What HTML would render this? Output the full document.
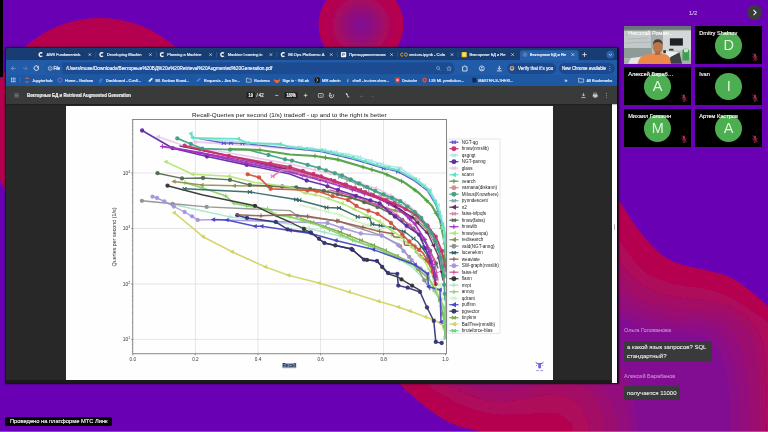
<!DOCTYPE html>
<html lang="ru"><head><meta charset="utf-8"><title>MTS Link</title>
<style>
html,body{margin:0;padding:0}
body{width:768px;height:432px;overflow:hidden;position:relative;background:#6900b4;
 font-family:"Liberation Sans",sans-serif;}
#bg{position:absolute;left:0;top:0}
#blackbar{position:absolute;left:0;top:0;width:2.6px;height:77px;background:#000}
#win{position:absolute;left:6.2px;top:48.2px;width:611.6px;height:334.8px;background:#282828;
 box-shadow:0 0 1.6px 0.6px rgba(8,8,18,.9);border-radius:2px 2px 0 0;overflow:hidden}
#win .tabbar{position:absolute;left:0;top:0;width:100%;height:12.2px;background:#173d72}
#win .addr{position:absolute;left:0;top:12px;width:100%;height:15.4px;background:#225ca8}
#win .bm{position:absolute;left:0;top:27.2px;width:100%;height:11.2px;background:#1f58a2}
#win .pdfbar{position:absolute;left:0;top:38.3px;width:100%;height:17.2px;background:#393a3a;
 box-shadow:0 0.5px 1.5px rgba(0,0,0,.6)}
#win .page{position:absolute;left:59.9px;top:57.5px;width:487px;height:274.4px;background:#fefefe}
#win .strip{position:absolute;left:605.6px;top:56px;width:5.2px;height:280px;background:#fdfdfd}
#win .redge{position:absolute;right:0;top:0;width:1.2px;height:100%;background:#0e1018}
#win .bot{position:absolute;left:0;bottom:0;width:605.4px;height:2.9px;background:#1b191b}
#win .handle{position:absolute;left:607.5px;top:176px;width:1.6px;height:6px;border-radius:1px;background:#b8b8b8}
#chrome{position:absolute;left:0;top:0}
.tile{position:absolute;width:67.4px;height:37.7px;background:#000;overflow:hidden}
.tile .nm{position:absolute;left:4.2px;top:3.9px;font-size:5.62px;line-height:7px;color:#f6f6f6;white-space:nowrap;z-index:3;
 -webkit-text-stroke:.15px #f6f6f6;filter:blur(.28px)}
.tile .av{position:absolute;left:20.4px;top:6.2px;width:26.6px;height:26.6px;border-radius:50%;background:#4cae50;
 color:#dcf6dc;font-size:14.5px;line-height:26.6px;text-align:center;filter:blur(.3px)}
.tile svg.mic{position:absolute;left:57.2px;top:26.6px;opacity:.8;filter:blur(.3px)}
#pg{position:absolute;left:689px;top:8.6px;font-size:5.9px;-webkit-text-stroke:.12px #d9b8f2;line-height:8px;color:#d9b8f2;filter:blur(.25px)}
#nxt{position:absolute;left:747.2px;top:4.9px;width:15.2px;height:15.2px;border-radius:50%;background:#3b3b3d}
.who{position:absolute;left:624px;font-size:5.57px;line-height:7px;color:#c58acb;white-space:nowrap;-webkit-text-stroke:.1px #c58acb;filter:blur(.28px)}
.bub{position:absolute;left:624px;background:#3a3a3c;border-radius:2.6px;color:#f4f4f4;font-size:6px;line-height:8.2px;-webkit-text-stroke:.07px #f4f4f4;
 white-space:nowrap;box-sizing:border-box;padding:2.5px 0 0 3.1px}
.bub span{filter:blur(.25px);display:block}
#foot{position:absolute;left:5.3px;top:416.8px;width:107px;height:9.7px;background:#050507;border-radius:1.8px;
 color:#f4f4f4;font-size:5.74px;line-height:9.7px;white-space:nowrap;-webkit-text-stroke:.15px #f4f4f4}
#foot span{position:absolute;left:4.7px;top:0;filter:blur(.25px)}
#botline{position:absolute;left:0;top:430.8px;width:768px;height:1.2px;background:rgba(190,170,200,.42)}
</style></head><body>
<svg id="bg" width="768" height="432" viewBox="0 0 768 432">
<defs>
<radialGradient id="rg1" cx="50%" cy="50%" r="50%"><stop offset="0" stop-color="#820e92"/><stop offset="0.18" stop-color="#880d88"/><stop offset="0.4" stop-color="#960a74"/><stop offset="0.62" stop-color="#aa075c"/><stop offset="0.8" stop-color="#b5054f"/><stop offset="1" stop-color="#b5054f"/></radialGradient>
<radialGradient id="rg2" cx="50%" cy="50%" r="50%"><stop offset="0" stop-color="#820e92"/><stop offset="0.3" stop-color="#900b7c"/><stop offset="0.6" stop-color="#a80860"/><stop offset="0.8" stop-color="#b5054f"/><stop offset="1" stop-color="#b5054f"/></radialGradient>
<filter id="bgb" filterUnits="userSpaceOnUse" x="-20" y="-20" width="808" height="472"><feGaussianBlur stdDeviation="0.55"/></filter>
</defs>
<g filter="url(#bgb)">
<rect x="-20" y="-20" width="808" height="472" fill="#6900b4"/>
<circle cx="100" cy="130" r="112" fill="url(#rg2)"/>
<circle cx="361" cy="25" r="42.5" fill="url(#rg1)"/>
<path d="M560.0 480.0 C516.0 474.7 558.5 455.0 556.0 448.0 C553.5 441.0 551.0 440.0 545.0 438.0 C539.0 436.0 531.2 437.2 520.0 436.0 C508.8 434.8 489.2 432.8 478.0 430.8 C466.8 428.8 460.5 427.1 453.0 424.0 C445.5 420.9 439.3 416.7 433.0 412.4 C426.7 408.1 420.6 402.9 415.0 398.0 C409.4 393.1 404.1 389.0 399.3 383.0 C394.5 377.0 374.2 380.8 386.0 362.0 C397.8 343.2 438.5 294.5 470.0 270.0 C501.5 245.5 552.7 228.7 575.0 215.0 C597.3 201.3 596.8 190.6 604.0 188.0 C611.2 185.4 612.8 193.4 618.0 199.7 C623.2 206.0 630.0 218.3 635.4 225.7 C640.8 233.1 645.8 239.1 650.6 244.2 C655.4 249.3 659.0 252.8 664.0 256.2 C669.0 259.6 673.2 261.9 680.5 264.3 C687.8 266.7 699.2 268.3 707.6 270.5 C716.0 272.7 723.8 274.2 730.7 277.5 C737.7 280.8 743.1 285.4 749.3 290.2 C755.5 295.0 759.5 298.9 768.0 306.4 C776.5 313.9 791.3 306.1 800.0 335.0 C808.7 363.9 860.0 455.8 820.0 480.0 C780.0 504.2 604.0 485.3 560.0 480.0 Z" fill="#b5054f"/>
<path d="M575.0 480.0 C538.8 471.8 574.2 440.9 573.0 431.0 C571.8 421.1 570.4 423.5 567.8 420.7 C565.2 417.9 561.9 415.2 557.6 414.0 C553.3 412.8 548.3 413.1 542.0 413.2 C535.7 413.3 528.4 414.4 520.0 414.6 C511.6 414.8 500.7 415.5 491.7 414.2 C482.7 412.9 473.6 409.9 466.0 407.0 C458.4 404.1 452.6 401.0 446.0 397.0 C439.4 393.0 430.7 390.8 426.4 383.0 C422.1 375.2 407.7 365.5 420.0 350.0 C432.3 334.5 471.7 308.3 500.0 290.0 C528.3 271.7 572.3 250.7 590.0 240.0 C607.7 229.3 601.5 226.5 606.0 226.0 C610.5 225.5 613.2 232.5 617.0 237.0 C620.8 241.5 624.7 247.6 629.0 253.0 C633.3 258.4 637.4 264.9 642.8 269.4 C648.2 273.9 654.4 277.1 661.3 279.8 C668.2 282.5 676.7 284.1 684.4 285.6 C692.1 287.1 699.9 287.1 707.6 289.0 C715.3 290.9 723.8 293.7 730.7 297.0 C737.6 300.3 742.8 304.4 749.0 308.7 C755.2 313.0 762.5 315.7 768.0 322.6 C773.5 329.5 778.3 323.8 782.0 350.0 C785.7 376.2 824.5 458.3 790.0 480.0 C755.5 501.7 611.2 488.2 575.0 480.0 Z" fill="#ad075a"/>
<path d="M592.0 480.0 C562.5 471.8 591.2 442.0 590.0 431.0 C588.8 420.0 587.0 418.8 584.7 414.0 C582.4 409.2 580.3 405.3 576.0 402.0 C571.7 398.7 565.0 395.5 559.0 394.4 C553.0 393.3 546.5 394.8 540.0 395.6 C533.5 396.5 528.0 398.6 520.0 399.5 C511.9 400.4 500.7 402.0 491.7 401.0 C482.7 400.0 473.6 396.6 466.0 393.6 C458.4 390.6 450.3 389.4 446.0 383.0 C441.7 376.6 427.7 368.0 440.0 355.0 C452.3 342.0 494.7 320.5 520.0 305.0 C545.3 289.5 577.7 271.5 592.0 262.0 C606.3 252.5 601.8 248.7 606.0 248.0 C610.2 247.3 613.2 253.5 617.0 257.8 C620.8 262.1 624.7 269.4 629.0 274.0 C633.3 278.6 637.5 282.3 642.8 285.6 C648.1 288.9 654.1 291.6 661.0 293.7 C667.9 295.8 676.2 297.1 684.0 298.3 C691.8 299.5 699.8 299.2 707.6 300.6 C715.4 302.0 723.3 302.7 730.7 306.4 C738.1 310.1 746.6 316.2 752.0 322.6 C757.4 329.0 760.7 334.6 763.0 345.0 C765.3 355.4 765.4 370.5 766.0 385.0 C766.6 399.5 766.3 416.2 766.5 432.0 C766.7 447.8 796.1 472.0 767.0 480.0 C737.9 488.0 621.5 488.2 592.0 480.0 Z" fill="#a40865"/>
<path d="M606.0 480.0 C580.3 471.8 606.3 443.4 605.0 431.0 C603.7 418.6 601.1 412.2 598.3 405.4 C595.5 398.6 593.1 393.6 588.0 390.0 C582.9 386.4 575.8 384.7 567.8 384.0 C559.8 383.3 548.0 384.9 540.0 385.8 C532.0 386.7 528.0 388.6 520.0 389.5 C511.9 390.4 501.2 392.1 491.7 391.0 C482.2 389.9 468.3 387.8 463.0 383.0 C457.7 378.2 447.2 372.8 460.0 362.0 C472.8 351.2 517.3 331.3 540.0 318.0 C562.7 304.7 584.8 290.3 596.0 282.0 C607.2 273.7 603.5 269.0 607.0 268.0 C610.5 267.0 613.3 272.3 617.0 276.0 C620.7 279.7 624.7 286.1 629.0 290.0 C633.3 293.9 637.7 296.9 643.0 299.4 C648.3 301.9 654.2 303.4 661.0 305.0 C667.8 306.6 676.2 307.9 684.0 308.7 C691.8 309.5 699.8 308.6 707.6 310.0 C715.4 311.4 724.5 314.0 730.7 316.8 C736.9 319.6 740.7 322.3 744.6 327.0 C748.5 331.7 751.7 335.3 754.0 345.0 C756.3 354.7 757.7 370.5 758.5 385.0 C759.3 399.5 758.9 416.2 759.0 432.0 C759.1 447.8 784.5 472.0 759.0 480.0 C733.5 488.0 631.7 488.2 606.0 480.0 Z" fill="#9c0a71"/>
<path d="M620.0 480.0 C598.1 471.8 619.4 442.0 618.6 431.0 C617.8 420.0 616.7 419.7 615.0 414.0 C613.3 408.3 611.8 402.1 608.5 397.0 C605.2 391.9 600.6 387.6 595.0 383.4 C589.4 379.2 580.8 379.2 575.0 372.0 C569.2 364.8 556.2 352.0 560.0 340.0 C563.8 328.0 590.0 309.0 598.0 300.0 C606.0 291.0 604.8 287.2 608.0 286.0 C611.2 284.8 612.0 289.1 617.0 292.5 C622.0 295.9 630.7 302.7 638.0 306.4 C645.3 310.1 653.3 312.6 661.0 314.5 C668.7 316.4 676.2 316.8 684.0 317.5 C691.8 318.2 700.6 317.4 707.6 319.0 C714.6 320.6 720.6 322.7 726.0 327.0 C731.4 331.3 736.3 336.2 740.0 345.0 C743.7 353.8 746.3 365.5 748.0 380.0 C749.7 394.5 749.7 415.3 750.0 432.0 C750.3 448.7 771.7 472.0 750.0 480.0 C728.3 488.0 641.9 488.2 620.0 480.0 Z" fill="#940b7c"/>
<path d="M631.0 480.0 C612.7 472.0 630.7 444.5 630.0 432.0 C629.3 419.5 628.3 413.1 627.0 405.0 C625.7 396.9 624.5 389.6 622.0 383.4 C619.5 377.2 615.7 375.2 612.0 368.0 C608.3 360.8 601.0 349.7 600.0 340.0 C599.0 330.3 603.2 315.6 606.0 310.0 C608.8 304.4 611.7 305.3 617.0 306.4 C622.3 307.5 630.7 314.1 638.0 316.8 C645.3 319.5 653.3 321.2 661.0 322.6 C668.7 324.0 676.2 324.3 684.0 325.0 C691.8 325.7 701.3 324.8 707.6 327.0 C713.9 329.2 717.8 332.8 722.0 338.0 C726.2 343.2 730.2 349.3 733.0 358.0 C735.8 366.7 737.8 377.7 739.0 390.0 C740.2 402.3 739.8 417.0 740.0 432.0 C740.2 447.0 758.2 472.0 740.0 480.0 C721.8 488.0 649.3 488.0 631.0 480.0 Z" fill="#8b0d87"/>
<path d="M639.0 480.0 C623.7 472.0 638.7 444.5 638.0 432.0 C637.3 419.5 636.3 412.8 635.0 405.0 C633.7 397.2 632.5 392.2 630.0 385.0 C627.5 377.8 622.7 370.3 620.0 362.0 C617.3 353.7 614.0 342.3 614.0 335.0 C614.0 327.7 616.0 319.5 620.0 318.0 C624.0 316.5 631.2 323.8 638.0 326.0 C644.8 328.2 653.3 329.8 661.0 331.0 C668.7 332.2 676.7 332.5 684.0 333.5 C691.3 334.5 699.2 334.2 705.0 337.0 C710.8 339.8 715.3 343.7 719.0 350.0 C722.7 356.3 725.2 365.8 727.0 375.0 C728.8 384.2 729.5 395.5 730.0 405.0 C730.5 414.5 730.0 419.5 730.0 432.0 C730.0 444.5 745.2 472.0 730.0 480.0 C714.8 488.0 654.3 488.0 639.0 480.0 Z" fill="#830e92"/>
</g>
</svg>
<div id="blackbar"></div>
<div id="win"><div class="tabbar"></div><div class="addr"></div><div class="bm"></div><div class="page"></div><div class="strip"></div><div class="handle"></div><div class="pdfbar"></div><div class="bot"></div><div class="redge"></div>
<svg id="chrome" width="768" height="432" viewBox="0 0 768 432" style="position:absolute;left:-6.2px;top:-48.2px;font-family:'Liberation Sans',sans-serif">
<defs><filter id="cb" x="-2%" y="-20%" width="104%" height="140%"><feGaussianBlur stdDeviation="0.32"/></filter></defs>
<g filter="url(#cb)">
<path d="M42.3 53.300000000000004 a1.85 1.85 0 1 0 0 2.6" fill="none" stroke="#f4f7fd" stroke-width="1.35"/>
<text x="46.6" y="56.2" font-size="4.4" fill="#e9eff9" font-weight="normal" stroke="#e9eff9" stroke-width="0.18" opacity="1.0" textLength="33.9" lengthAdjust="spacingAndGlyphs">AWS Fundamentals</text>
<rect x="81.1" y="52.0" width="3.4" height="5.2" fill="#173d72" opacity="0.55"/>
<path d="M88.6 53.4 L91.0 55.800000000000004 M88.6 55.800000000000004 L91.0 53.4" stroke="#e4ebf6" stroke-width="0.7" fill="none"/>
<line x1="95.8" y1="51.800000000000004" x2="95.8" y2="57.4" stroke="#3a63a0" stroke-width="0.6"/>
<path d="M103.1 53.300000000000004 a1.85 1.85 0 1 0 0 2.6" fill="none" stroke="#f4f7fd" stroke-width="1.35"/>
<text x="106.8" y="56.2" font-size="4.4" fill="#e9eff9" font-weight="normal" stroke="#e9eff9" stroke-width="0.18" opacity="1.0" textLength="34.7" lengthAdjust="spacingAndGlyphs">Developing Machin</text>
<rect x="142.1" y="52.0" width="3.4" height="5.2" fill="#173d72" opacity="0.55"/>
<path d="M149.20000000000002 53.4 L151.6 55.800000000000004 M149.20000000000002 55.800000000000004 L151.6 53.4" stroke="#e4ebf6" stroke-width="0.7" fill="none"/>
<line x1="156.4" y1="51.800000000000004" x2="156.4" y2="57.4" stroke="#3a63a0" stroke-width="0.6"/>
<path d="M163.6 53.300000000000004 a1.85 1.85 0 1 0 0 2.6" fill="none" stroke="#f4f7fd" stroke-width="1.35"/>
<text x="167.3" y="56.2" font-size="4.4" fill="#e9eff9" font-weight="normal" stroke="#e9eff9" stroke-width="0.18" opacity="1.0" textLength="34.2" lengthAdjust="spacingAndGlyphs">Planning a Machine</text>
<rect x="202.1" y="52.0" width="3.4" height="5.2" fill="#173d72" opacity="0.55"/>
<path d="M209.4 53.4 L211.79999999999998 55.800000000000004 M209.4 55.800000000000004 L211.79999999999998 53.4" stroke="#e4ebf6" stroke-width="0.7" fill="none"/>
<line x1="216.6" y1="51.800000000000004" x2="216.6" y2="57.4" stroke="#3a63a0" stroke-width="0.6"/>
<path d="M224.0 53.300000000000004 a1.85 1.85 0 1 0 0 2.6" fill="none" stroke="#f4f7fd" stroke-width="1.35"/>
<text x="227.8" y="56.2" font-size="4.4" fill="#e9eff9" font-weight="normal" stroke="#e9eff9" stroke-width="0.18" opacity="1.0" textLength="34.7" lengthAdjust="spacingAndGlyphs">Machine Learning in</text>
<rect x="263.1" y="52.0" width="3.4" height="5.2" fill="#173d72" opacity="0.55"/>
<path d="M269.7 53.4 L272.09999999999997 55.800000000000004 M269.7 55.800000000000004 L272.09999999999997 53.4" stroke="#e4ebf6" stroke-width="0.7" fill="none"/>
<line x1="276.9" y1="51.800000000000004" x2="276.9" y2="57.4" stroke="#3a63a0" stroke-width="0.6"/>
<path d="M284.6 53.300000000000004 a1.85 1.85 0 1 0 0 2.6" fill="none" stroke="#f4f7fd" stroke-width="1.35"/>
<text x="288.2" y="56.2" font-size="4.4" fill="#e9eff9" font-weight="normal" stroke="#e9eff9" stroke-width="0.18" opacity="1.0" textLength="36.3" lengthAdjust="spacingAndGlyphs">MLOps Platforms: A</text>
<rect x="325.1" y="52.0" width="3.4" height="5.2" fill="#173d72" opacity="0.55"/>
<path d="M330.1 53.4 L332.5 55.800000000000004 M330.1 55.800000000000004 L332.5 53.4" stroke="#e4ebf6" stroke-width="0.7" fill="none"/>
<line x1="337.3" y1="51.800000000000004" x2="337.3" y2="57.4" stroke="#3a63a0" stroke-width="0.6"/>
<rect x="340.9" y="52" width="5.3" height="5.3" rx="1" fill="#f4f6fa"/><path d="M342.4 56 v-2.7 h1.6 a0.8 0.8 0 0 1 0 1.6 h-1.6" fill="none" stroke="#3c4a66" stroke-width="0.6"/>
<text x="349.0" y="56.2" font-size="4.4" fill="#e9eff9" font-weight="normal" stroke="#e9eff9" stroke-width="0.18" opacity="1.0" textLength="36.5" lengthAdjust="spacingAndGlyphs">Преподавательска</text>
<path d="M390.40000000000003 53.4 L392.8 55.800000000000004 M390.40000000000003 55.800000000000004 L392.8 53.4" stroke="#e4ebf6" stroke-width="0.7" fill="none"/>
<line x1="397.6" y1="51.800000000000004" x2="397.6" y2="57.4" stroke="#3a63a0" stroke-width="0.6"/>
<path d="M403.2 53.5 A1.55 1.55 0 1 0 403.2 55.7" fill="none" stroke="#f0a020" stroke-width="1"/><circle cx="405.9" cy="54.6" r="1.55" fill="none" stroke="#e8901c" stroke-width="1"/>
<text x="408.9" y="56.2" font-size="4.4" fill="#e9eff9" font-weight="normal" stroke="#e9eff9" stroke-width="0.18" opacity="1.0" textLength="36.1" lengthAdjust="spacingAndGlyphs">vectors.ipynb - Cola</text>
<path d="M450.8 53.4 L453.2 55.800000000000004 M450.8 55.800000000000004 L453.2 53.4" stroke="#e4ebf6" stroke-width="0.7" fill="none"/>
<line x1="458" y1="51.800000000000004" x2="458" y2="57.4" stroke="#3a63a0" stroke-width="0.6"/>
<rect x="461.6" y="52" width="5.2" height="5.2" rx="0.8" fill="#f4c430"/><rect x="462.8" y="53.3" width="2.8" height="2.6" fill="#fbe38a"/>
<text x="469.5" y="56.2" font-size="4.4" fill="#e9eff9" font-weight="normal" stroke="#e9eff9" stroke-width="0.18" opacity="1.0" textLength="35.9" lengthAdjust="spacingAndGlyphs">Векторные БД и Re</text>
<path d="M511.40000000000003 53.4 L513.8000000000001 55.800000000000004 M511.40000000000003 55.800000000000004 L513.8000000000001 53.4" stroke="#e4ebf6" stroke-width="0.7" fill="none"/>
<path d="M518.2 60.5 q1.8 0 1.8 -1.8 v-6.4 q0 -2 2 -2 h54.5 q2 0 2 2 v6.4 q0 1.8 1.8 1.8 z" fill="#2861ab"/>
<circle cx="525" cy="54.6" r="2.4" fill="#5b83bd" opacity="0.8"/>
<text x="529.8" y="56.2" font-size="4.4" fill="#f4f8ff" font-weight="normal" stroke="#f4f8ff" stroke-width="0.18" opacity="1.0" textLength="36.2" lengthAdjust="spacingAndGlyphs">Векторные БД и Re</text>
<path d="M571.5999999999999 53.4 L574.0 55.800000000000004 M571.5999999999999 55.800000000000004 L574.0 53.4" stroke="#e4ebf6" stroke-width="0.7" fill="none"/>
<path d="M582.3 54.6 h4.4 M584.5 52.4 v4.4" stroke="#e8eef8" stroke-width="0.8" fill="none"/>
<circle cx="610.3" cy="54.6" r="3.9" fill="#2a62ae"/><path d="M608.8 54 l1.5 1.5 l1.5 -1.5" fill="none" stroke="#e8eef8" stroke-width="0.7"/>
<path d="M15.6 68.4 h-4.2 m1.9 -1.9 l-1.9 1.9 l1.9 1.9" fill="none" stroke="#7ea3dc" stroke-width="0.8"/>
<path d="M22.9 68.4 h4.2 m-1.9 -1.9 l1.9 1.9 l-1.9 1.9" fill="none" stroke="#5c86c6" stroke-width="0.8"/>
<path d="M38.6 68.0 a2.3 2.3 0 1 1 -0.8 -1.6" fill="none" stroke="#e8eef8" stroke-width="0.9"/><path d="M38.9 65.60000000000001 v2.2 h-2.2z" fill="#e8eef8"/>
<rect x="44.4" y="62.6" width="410.4" height="11.6" rx="5.8" fill="#2058a2"/><path d="M62.5 62.6 h386.5 a5.8 5.8 0 0 1 0 11.6 h-386.5 z" fill="#1b4c92"/>
<circle cx="50.2" cy="68.4" r="1.9" fill="none" stroke="#e8eef8" stroke-width="0.6"/><path d="M50.2 68.2 v1.2 M50.2 67.4 v0.3" stroke="#e8eef8" stroke-width="0.5"/>
<text x="53.4" y="70.2" font-size="4.9" fill="#f2f6ff" font-weight="normal" stroke="#f2f6ff" stroke-width="0.18" opacity="1.0" textLength="6.8" lengthAdjust="spacingAndGlyphs">File</text>
<text x="66.2" y="70.2" font-size="5.1" fill="#f4f8ff" font-weight="normal" stroke="#f4f8ff" stroke-width="0.18" opacity="1.0" textLength="206.1" lengthAdjust="spacingAndGlyphs">/Users/muse/Downloads/Векторные%20БД%20и%20Retrieval%20Augmented%20Generation.pdf</text>
<circle cx="438" cy="68.0" r="1.5" fill="none" stroke="#9db7e0" stroke-width="0.6"/><path d="M439.1 69.10000000000001 l1.3 1.3" stroke="#9db7e0" stroke-width="0.6"/>
<path d="M449 66.2 l0.7 1.5 l1.6 0.2 l-1.2 1.1 l0.3 1.6 l-1.4 -0.8 l-1.4 0.8 l0.3 -1.6 l-1.2 -1.1 l1.6 -0.2z" fill="none" stroke="#b4c8e8" stroke-width="0.5"/>
<path d="M462.6 66.80000000000001 h1.2 a1 1 0 0 1 2 0 h1.2 v4.2 h-4.4z" fill="none" stroke="#eef3fb" stroke-width="0.8"/>
<circle cx="481.8" cy="68.4" r="2.5" fill="none" stroke="#eef3fb" stroke-width="0.7"/><circle cx="481.8" cy="67.7" r="0.8" fill="#eef3fb"/><path d="M480 70.10000000000001 q1.8 -1.6 3.6 0" fill="none" stroke="#eef3fb" stroke-width="0.6"/>
<path d="M499.3 65.80000000000001 v3.6 m-1.6 -1.5 l1.6 1.6 l1.6 -1.6 M496.9 70.9 h4.8" fill="none" stroke="#eef3fb" stroke-width="0.8"/>
<rect x="507.3" y="62.9" width="49" height="11" rx="5.5" fill="#1a4a8e"/>
<circle cx="512" cy="68.4" r="2.3" fill="#c9a98f"/><circle cx="512" cy="67.9" r="1" fill="#6b4a3a"/>
<text x="518.0" y="70.1" font-size="4.85" fill="#eef3fb" font-weight="normal" stroke="#eef3fb" stroke-width="0.18" opacity="1.0" textLength="35.2" lengthAdjust="spacingAndGlyphs">Verify that it's you</text>
<rect x="559" y="62.9" width="55.8" height="11" rx="5.5" fill="#1a4a8e"/>
<text x="562.0" y="70.1" font-size="4.85" fill="#f4f8ff" font-weight="normal" stroke="#f4f8ff" stroke-width="0.18" opacity="1.0" textLength="44.0" lengthAdjust="spacingAndGlyphs">New Chrome available</text>
<circle cx="609.9" cy="66.60000000000001" r="0.45" fill="#fff"/><circle cx="609.9" cy="68.4" r="0.45" fill="#fff"/><circle cx="609.9" cy="70.2" r="0.45" fill="#fff"/>
<g fill="#e4ecf8"><rect x="11.0" y="77.7" width="1.1" height="1.1"/><rect x="11.0" y="79.4" width="1.1" height="1.1"/><rect x="11.0" y="81.1" width="1.1" height="1.1"/><rect x="12.7" y="77.7" width="1.1" height="1.1"/><rect x="12.7" y="79.4" width="1.1" height="1.1"/><rect x="12.7" y="81.1" width="1.1" height="1.1"/><rect x="14.4" y="77.7" width="1.1" height="1.1"/><rect x="14.4" y="79.4" width="1.1" height="1.1"/><rect x="14.4" y="81.1" width="1.1" height="1.1"/></g>
<line x1="20.3" y1="77.5" x2="20.3" y2="82.69999999999999" stroke="#4f7cc0" stroke-width="0.5"/>
<path d="M25.2 78.6 q1.8 -1.5 3.6 0 M25.2 81.6 q1.8 1.5 3.6 0" fill="none" stroke="#f07030" stroke-width="0.9"/>
<text x="32.2" y="81.6" font-size="4.3" fill="#e9eff9" font-weight="normal" stroke="#e9eff9" stroke-width="0.18" opacity="1.0" textLength="20.3" lengthAdjust="spacingAndGlyphs">Jupyterhub</text>
<circle cx="60" cy="80.1" r="2.1" fill="none" stroke="#7a6bd0" stroke-width="0.9"/>
<text x="65.0" y="81.6" font-size="4.3" fill="#e9eff9" font-weight="normal" stroke="#e9eff9" stroke-width="0.18" opacity="1.0" textLength="28.0" lengthAdjust="spacingAndGlyphs">Home - Grafana</text>
<path d="M98.6 81.89999999999999 l2 -3.8 l2.2 1.2 l-2 3.8z" fill="#2a7de1"/>
<text x="105.8" y="81.6" font-size="4.3" fill="#e9eff9" font-weight="normal" stroke="#e9eff9" stroke-width="0.18" opacity="1.0" textLength="35.2" lengthAdjust="spacingAndGlyphs">Dashboard - Confl...</text>
<path d="M148.6 82.0 l0.6 -1.7 l2.6 -2.6 l1.1 1.1 l-2.6 2.6z" fill="#f2f6ff"/>
<text x="155.5" y="81.6" font-size="4.3" fill="#e9eff9" font-weight="normal" stroke="#e9eff9" stroke-width="0.18" opacity="1.0" textLength="33.9" lengthAdjust="spacingAndGlyphs">ML Kanban Board...</text>
<path d="M196.6 82.0 l0.6 -1.7 l2.6 -2.6 l1.1 1.1 l-2.6 2.6z" fill="#3d8bf0"/>
<text x="203.8" y="81.6" font-size="4.3" fill="#e9eff9" font-weight="normal" stroke="#e9eff9" stroke-width="0.18" opacity="1.0" textLength="36.2" lengthAdjust="spacingAndGlyphs">Requests - Jira Se...</text>
<path d="M246.4 78.19999999999999 h1.6 l0.6 0.7 h2.6 v3.3 h-4.8z" fill="none" stroke="#dfe8f6" stroke-width="0.6"/>
<text x="254.2" y="81.6" font-size="4.3" fill="#e9eff9" font-weight="normal" stroke="#e9eff9" stroke-width="0.18" opacity="1.0" textLength="15.8" lengthAdjust="spacingAndGlyphs">Business</text>
<path d="M274.6 78.5 l0.7 1.6 h3.4 l0.7 -1.6 l0.7 2.4 l-3.1 2.6 l-3.1 -2.6z" fill="#f0642c"/>
<text x="282.5" y="81.6" font-size="4.3" fill="#e9eff9" font-weight="normal" stroke="#e9eff9" stroke-width="0.18" opacity="1.0" textLength="26.5" lengthAdjust="spacingAndGlyphs">Sign in · GitLab</text>
<rect x="314.6" y="77.5" width="5.2" height="5.2" rx="1" fill="#15171c"/><path d="M316.6 78.5 q2.2 1.6 0 3.2" fill="none" stroke="#f4c21c" stroke-width="0.9"/>
<text x="322.0" y="81.6" font-size="4.3" fill="#e9eff9" font-weight="normal" stroke="#e9eff9" stroke-width="0.18" opacity="1.0" textLength="18.6" lengthAdjust="spacingAndGlyphs">MR admin</text>
<path d="M346.8 82.1 q0.4 -2.6 1.6 -3.8 q0.3 2 -0.1 3.8z" fill="#c6a078"/>
<text x="352.5" y="81.6" font-size="4.3" fill="#e9eff9" font-weight="normal" stroke="#e9eff9" stroke-width="0.18" opacity="1.0" textLength="36.9" lengthAdjust="spacingAndGlyphs">shell - in.river.shee...</text>
<rect x="395.3" y="77.6" width="4.4" height="5" rx="0.8" fill="#e8403a"/><rect x="396.6" y="79.1" width="1.8" height="2" fill="#f8d0c8"/>
<text x="402.0" y="81.6" font-size="4.3" fill="#e9eff9" font-weight="normal" stroke="#e9eff9" stroke-width="0.18" opacity="1.0" textLength="15.0" lengthAdjust="spacingAndGlyphs">Deutsche</text>
<circle cx="424.6" cy="80.1" r="2.3" fill="#e4562e"/><circle cx="424.6" cy="80.1" r="1" fill="#7a2a60"/>
<text x="429.2" y="81.6" font-size="4.3" fill="#e9eff9" font-weight="normal" stroke="#e9eff9" stroke-width="0.18" opacity="1.0" textLength="34.8" lengthAdjust="spacingAndGlyphs">LIG ML prediction...</text>
<path d="M472.4 77.69999999999999 h3.2 l0.8 0.9 v3.9 h-4z" fill="#0f2a50"/>
<text x="478.3" y="81.6" font-size="4.3" fill="#e9eff9" font-weight="normal" stroke="#e9eff9" stroke-width="0.18" opacity="1.0" textLength="34.9" lengthAdjust="spacingAndGlyphs">MASTER-S-THESI...</text>
<text x="564.6" y="82.0" font-size="5.2" fill="#cfdcf2" font-weight="normal" stroke="#cfdcf2" stroke-width="0.18" opacity="1.0" textLength="3.0" lengthAdjust="spacingAndGlyphs">»</text>
<path d="M578.6 78.19999999999999 h1.6 l0.6 0.7 h2.8 v3.3 h-5z" fill="none" stroke="#dfe8f6" stroke-width="0.6"/>
<text x="586.4" y="81.6" font-size="4.3" fill="#e9eff9" font-weight="normal" stroke="#e9eff9" stroke-width="0.18" opacity="1.0" textLength="26.0" lengthAdjust="spacingAndGlyphs">All Bookmarks</text>
<path d="M14.4 93.9 h4.4 M14.4 95.4 h4.4 M14.4 96.9 h4.4" stroke="#9a9ea2" stroke-width="0.6"/>
<text x="27.0" y="97.1" font-size="4.75" fill="#f1f3f4" font-weight="bold" stroke="#f1f3f4" stroke-width="0.18" opacity="1.0" textLength="104.0" lengthAdjust="spacingAndGlyphs">Векторные БД и Retrieval Augmented Generation</text>
<rect x="246.6" y="92.5" width="8.2" height="5.8" fill="#1b1c1d"/>
<text x="248.6" y="97.1" font-size="4.6" fill="#f1f3f4" font-weight="bold" stroke="#f1f3f4" stroke-width="0.18" opacity="1.0" textLength="4.3" lengthAdjust="spacingAndGlyphs">19</text>
<text x="256.4" y="97.1" font-size="4.6" fill="#e4e6e8" font-weight="normal" stroke="#e4e6e8" stroke-width="0.18" opacity="1.0" textLength="7.2" lengthAdjust="spacingAndGlyphs">/ 42</text>
<path d="M275.2 95.4 h3.2" stroke="#e8eaed" stroke-width="0.7"/>
<rect x="284.6" y="92.5" width="13" height="5.8" fill="#1b1c1d"/>
<text x="286.5" y="97.1" font-size="4.6" fill="#f1f3f4" font-weight="bold" stroke="#f1f3f4" stroke-width="0.18" opacity="1.0" textLength="9.3" lengthAdjust="spacingAndGlyphs">180%</text>
<path d="M303.8 95.4 h3.6 M305.6 93.60000000000001 v3.6" stroke="#e8eaed" stroke-width="0.7"/>
<line x1="313.4" y1="92.4" x2="313.4" y2="98.4" stroke="#4a4d50" stroke-width="0.4"/>
<rect x="318.4" y="93.5" width="4.8" height="3.8" rx="0.5" fill="none" stroke="#dadce0" stroke-width="0.7"/><path d="M320.8 94.5 v1.8" stroke="#dadce0" stroke-width="0.5"/>
<path d="M333.2 94.2 a2.2 2.2 0 1 1 -2.6 -0.6" fill="none" stroke="#dadce0" stroke-width="0.8"/><path d="M329.4 92.60000000000001 l1.8 0.9 l-1.5 1.3z" fill="#dadce0"/><rect x="330.4" y="94.80000000000001" width="1.4" height="1.6" fill="#dadce0"/>
<path d="M345.6 93.4 l1.2 -0.4 l1.4 2.2 l-0.9 0.9 z M347.4 96.30000000000001 q1.6 -0.6 2.2 1 h-2.4z" fill="#dadce0"/>
<path d="M363.2 96.4 h-2.6 m1 -1 l-1 1 l1 1" fill="none" stroke="#6a6d70" stroke-width="0.6"/>
<path d="M371.2 96.4 h2.4 m-1 -1 l1 1 l-1 1" fill="none" stroke="#5a5d60" stroke-width="0.6"/>
<path d="M583.5 93.0 v3 m-1.4 -1.3 l1.4 1.4 l1.4 -1.4 M581.4 97.60000000000001 h4.2" fill="none" stroke="#dadce0" stroke-width="0.7"/>
<rect x="592.8" y="94.4" width="4.8" height="2.6" rx="0.5" fill="#dadce0"/><rect x="593.8" y="93.0" width="2.8" height="1.4" fill="none" stroke="#dadce0" stroke-width="0.5"/><rect x="593.9" y="96.0" width="2.6" height="1.8" fill="#dadce0" stroke="#393a3a" stroke-width="0.3"/>
<circle cx="606.6" cy="93.5" r="0.45" fill="#dadce0"/><circle cx="606.6" cy="95.4" r="0.45" fill="#dadce0"/><circle cx="606.6" cy="97.30000000000001" r="0.45" fill="#dadce0"/>
</g></svg>
</div>
<svg id="chart" width="768" height="432" viewBox="0 0 768 432" style="position:absolute;left:0;top:0;font-family:'Liberation Sans',sans-serif">
<defs><clipPath id="plotclip"><rect x="132.8" y="119.5" width="313.6" height="234.3"/></clipPath><filter id="soft" x="-5%" y="-5%" width="110%" height="110%"><feGaussianBlur stdDeviation="0.45"/></filter></defs>
<g filter="url(#soft)">
<line x1="195.4" y1="119.5" x2="195.4" y2="353.8" stroke="#d6d2d6" stroke-width="0.6"/>
<line x1="258.0" y1="119.5" x2="258.0" y2="353.8" stroke="#d6d2d6" stroke-width="0.6"/>
<line x1="320.6" y1="119.5" x2="320.6" y2="353.8" stroke="#d6d2d6" stroke-width="0.6"/>
<line x1="383.5" y1="119.5" x2="383.5" y2="353.8" stroke="#d6d2d6" stroke-width="0.6"/>
<line x1="132.8" y1="173.0" x2="446.4" y2="173.0" stroke="#d6d2d6" stroke-width="0.6"/>
<line x1="132.8" y1="228.5" x2="446.4" y2="228.5" stroke="#d6d2d6" stroke-width="0.6"/>
<line x1="132.8" y1="284.0" x2="446.4" y2="284.0" stroke="#d6d2d6" stroke-width="0.6"/>
<line x1="132.8" y1="339.4" x2="446.4" y2="339.4" stroke="#d6d2d6" stroke-width="0.6"/>
<g clip-path="url(#plotclip)" fill="none" stroke-linejoin="round" stroke-linecap="round">
<path d="M174.2 212.7 L203.0 236.7 L232.0 251.7 L265.4 266.9 L288.3 275.2 L319.0 283.0 L349.0 291.9 L378.5 301.3 L398.3 307.0 L409.8 311.0 L425.4 316.9 L433.8 320.0 L441.0 323.8" stroke="#d2d264" stroke-width="1.54" opacity="0.93"/>
<path d="M171.7 212.7 L176.0 210.4 L176.0 215.0Z" fill="#d2d264" stroke="none" opacity="0.93"/>
<path d="M200.5 236.7 L204.8 234.4 L204.8 239.0Z" fill="#d2d264" stroke="none" opacity="0.93"/>
<path d="M229.5 251.7 L233.8 249.4 L233.8 254.0Z" fill="#d2d264" stroke="none" opacity="0.93"/>
<path d="M262.9 266.9 L267.2 264.6 L267.2 269.2Z" fill="#d2d264" stroke="none" opacity="0.93"/>
<path d="M285.8 275.2 L290.1 272.9 L290.1 277.5Z" fill="#d2d264" stroke="none" opacity="0.93"/>
<path d="M316.5 283.0 L320.8 280.7 L320.8 285.3Z" fill="#d2d264" stroke="none" opacity="0.93"/>
<path d="M346.5 291.9 L350.8 289.6 L350.8 294.2Z" fill="#d2d264" stroke="none" opacity="0.93"/>
<path d="M376.0 301.3 L380.3 299.0 L380.3 303.6Z" fill="#d2d264" stroke="none" opacity="0.93"/>
<path d="M395.8 307.0 L400.1 304.7 L400.1 309.3Z" fill="#d2d264" stroke="none" opacity="0.93"/>
<path d="M407.3 311.0 L411.6 308.7 L411.6 313.3Z" fill="#d2d264" stroke="none" opacity="0.93"/>
<path d="M422.9 316.9 L427.2 314.6 L427.2 319.2Z" fill="#d2d264" stroke="none" opacity="0.93"/>
<path d="M431.3 320.0 L435.6 317.7 L435.6 322.3Z" fill="#d2d264" stroke="none" opacity="0.93"/>
<path d="M438.5 323.8 L442.8 321.5 L442.8 326.1Z" fill="#d2d264" stroke="none" opacity="0.93"/>
<path d="M300.0 205.0 L340.0 215.0 L380.0 230.0 L410.0 245.0 L430.0 265.0 L440.0 285.0 L444.0 310.0" stroke="#d4f0c4" stroke-width="1.4" opacity="0.93"/>
<path d="M312.2 207.0 L315.0 209.8 M312.2 209.8 L315.0 207.0 M312.2 207.0 V209.8 M315.0 207.0 V209.8" stroke="#d4f0c4" stroke-width="1.0" fill="none" opacity="0.93"/>
<path d="M325.8 210.4 L328.6 213.2 M325.8 213.2 L328.6 210.4 M325.8 210.4 V213.2 M328.6 210.4 V213.2" stroke="#d4f0c4" stroke-width="1.0" fill="none" opacity="0.93"/>
<path d="M339.3 213.9 L342.1 216.7 M339.3 216.7 L342.1 213.9 M339.3 213.9 V216.7 M342.1 213.9 V216.7" stroke="#d4f0c4" stroke-width="1.0" fill="none" opacity="0.93"/>
<path d="M352.4 218.8 L355.2 221.6 M352.4 221.6 L355.2 218.8 M352.4 218.8 V221.6 M355.2 218.8 V221.6" stroke="#d4f0c4" stroke-width="1.0" fill="none" opacity="0.93"/>
<path d="M365.5 223.7 L368.3 226.5 M365.5 226.5 L368.3 223.7 M365.5 223.7 V226.5 M368.3 223.7 V226.5" stroke="#d4f0c4" stroke-width="1.0" fill="none" opacity="0.93"/>
<path d="M378.6 228.6 L381.4 231.4 M378.6 231.4 L381.4 228.6 M378.6 228.6 V231.4 M381.4 228.6 V231.4" stroke="#d4f0c4" stroke-width="1.0" fill="none" opacity="0.93"/>
<path d="M391.2 234.9 L394.0 237.7 M391.2 237.7 L394.0 234.9 M391.2 234.9 V237.7 M394.0 234.9 V237.7" stroke="#d4f0c4" stroke-width="1.0" fill="none" opacity="0.93"/>
<path d="M403.7 241.1 L406.5 243.9 M403.7 243.9 L406.5 241.1 M403.7 241.1 V243.9 M406.5 241.1 V243.9" stroke="#d4f0c4" stroke-width="1.0" fill="none" opacity="0.93"/>
<path d="M414.6 249.6 L417.4 252.4 M414.6 252.4 L417.4 249.6 M414.6 249.6 V252.4 M417.4 249.6 V252.4" stroke="#d4f0c4" stroke-width="1.0" fill="none" opacity="0.93"/>
<path d="M424.5 259.5 L427.3 262.3 M424.5 262.3 L427.3 259.5 M424.5 259.5 V262.3 M427.3 259.5 V262.3" stroke="#d4f0c4" stroke-width="1.0" fill="none" opacity="0.93"/>
<path d="M432.3 271.0 L435.1 273.8 M432.3 273.8 L435.1 271.0 M432.3 271.0 V273.8 M435.1 271.0 V273.8" stroke="#d4f0c4" stroke-width="1.0" fill="none" opacity="0.93"/>
<path d="M438.5 283.5 L441.3 286.3 M438.5 286.3 L441.3 283.5 M438.5 283.5 V286.3 M441.3 283.5 V286.3" stroke="#d4f0c4" stroke-width="1.0" fill="none" opacity="0.93"/>
<path d="M440.8 297.3 L443.6 300.1 M440.8 300.1 L443.6 297.3 M440.8 297.3 V300.1 M443.6 297.3 V300.1" stroke="#d4f0c4" stroke-width="1.0" fill="none" opacity="0.93"/>
<path d="M167.5 203.3 L230.0 216.9 L290.0 224.0 L340.0 236.0 L380.0 250.0 L410.0 265.0 L430.0 285.0 L440.0 300.0 L444.5 325.0" stroke="#a4e4c8" stroke-width="1.4" opacity="0.93"/>
<path d="M228.0 216.9 H232.0 M230.0 214.9 V218.9" stroke="#a4e4c8" stroke-width="1.0" fill="none" opacity="0.93"/>
<path d="M338.0 236.0 H342.0 M340.0 234.0 V238.0" stroke="#a4e4c8" stroke-width="1.0" fill="none" opacity="0.93"/>
<path d="M408.0 265.0 H412.0 M410.0 263.0 V267.0" stroke="#a4e4c8" stroke-width="1.0" fill="none" opacity="0.93"/>
<path d="M307.1 228.6 H311.1 M309.1 226.6 V230.6" stroke="#a4e4c8" stroke-width="1.0" fill="none" opacity="0.93"/>
<path d="M322.6 232.3 H326.6 M324.6 230.3 V234.3" stroke="#a4e4c8" stroke-width="1.0" fill="none" opacity="0.93"/>
<path d="M353.3 241.4 H357.3 M355.3 239.4 V243.4" stroke="#a4e4c8" stroke-width="1.0" fill="none" opacity="0.93"/>
<path d="M368.4 246.6 H372.4 M370.4 244.6 V248.6" stroke="#a4e4c8" stroke-width="1.0" fill="none" opacity="0.93"/>
<path d="M383.2 252.6 H387.2 M385.2 250.6 V254.6" stroke="#a4e4c8" stroke-width="1.0" fill="none" opacity="0.93"/>
<path d="M397.5 259.8 H401.5 M399.5 257.8 V261.8" stroke="#a4e4c8" stroke-width="1.0" fill="none" opacity="0.93"/>
<path d="M422.3 279.3 H426.3 M424.3 277.3 V281.3" stroke="#a4e4c8" stroke-width="1.0" fill="none" opacity="0.93"/>
<path d="M432.4 291.7 H436.4 M434.4 289.7 V293.7" stroke="#a4e4c8" stroke-width="1.0" fill="none" opacity="0.93"/>
<path d="M439.1 305.9 H443.1 M441.1 303.9 V307.9" stroke="#a4e4c8" stroke-width="1.0" fill="none" opacity="0.93"/>
<path d="M441.9 321.6 H445.9 M443.9 319.6 V323.6" stroke="#a4e4c8" stroke-width="1.0" fill="none" opacity="0.93"/>
<path d="M141.9 200.8 L172.7 203.8 L206.7 206.9 L290.0 210.6 L297.3 215.8 L338.0 221.0 L381.7 235.6 L398.3 244.0 L415.0 263.8 L430.0 290.0" stroke="#909090" stroke-width="1.4" opacity="0.93"/>
<circle cx="141.9" cy="200.8" r="2.15" fill="#909090" stroke="none" opacity="0.93"/>
<circle cx="172.7" cy="203.8" r="2.15" fill="#909090" stroke="none" opacity="0.93"/>
<circle cx="206.7" cy="206.9" r="2.15" fill="#909090" stroke="none" opacity="0.93"/>
<circle cx="297.3" cy="215.8" r="2.15" fill="#909090" stroke="none" opacity="0.93"/>
<circle cx="338.0" cy="221.0" r="2.15" fill="#909090" stroke="none" opacity="0.93"/>
<circle cx="381.7" cy="235.6" r="2.15" fill="#909090" stroke="none" opacity="0.93"/>
<circle cx="400.1" cy="246.2" r="2.15" fill="#909090" stroke="none" opacity="0.93"/>
<circle cx="409.2" cy="256.9" r="2.15" fill="#909090" stroke="none" opacity="0.93"/>
<circle cx="417.5" cy="268.1" r="2.15" fill="#909090" stroke="none" opacity="0.93"/>
<circle cx="424.4" cy="280.3" r="2.15" fill="#909090" stroke="none" opacity="0.93"/>
<path d="M152.5 196.7 L157.0 198.0 L164.4 201.3 L173.8 206.5 L184.6 212.0 L192.0 216.3 L197.7 220.0 L213.0 219.6 L290.0 222.0 L327.5 223.0 L342.0 228.0 L360.8 233.5 L381.7 235.6 L398.0 245.0 L415.0 263.8 L427.5 274.0" stroke="#a494e0" stroke-width="1.4" opacity="0.93"/>
<circle cx="152.5" cy="196.7" r="2.15" fill="#a494e0" stroke="none" opacity="0.93"/>
<circle cx="157.0" cy="198.0" r="2.15" fill="#a494e0" stroke="none" opacity="0.93"/>
<circle cx="164.4" cy="201.3" r="2.15" fill="#a494e0" stroke="none" opacity="0.93"/>
<circle cx="173.8" cy="206.5" r="2.15" fill="#a494e0" stroke="none" opacity="0.93"/>
<circle cx="184.6" cy="212.0" r="2.15" fill="#a494e0" stroke="none" opacity="0.93"/>
<circle cx="192.0" cy="216.3" r="2.15" fill="#a494e0" stroke="none" opacity="0.93"/>
<circle cx="197.7" cy="220.0" r="2.15" fill="#a494e0" stroke="none" opacity="0.93"/>
<circle cx="327.5" cy="223.0" r="2.15" fill="#a494e0" stroke="none" opacity="0.93"/>
<circle cx="342.0" cy="228.0" r="2.15" fill="#a494e0" stroke="none" opacity="0.93"/>
<circle cx="360.8" cy="233.5" r="2.15" fill="#a494e0" stroke="none" opacity="0.93"/>
<circle cx="381.7" cy="235.6" r="2.15" fill="#a494e0" stroke="none" opacity="0.93"/>
<circle cx="398.0" cy="245.0" r="2.15" fill="#a494e0" stroke="none" opacity="0.93"/>
<circle cx="403.6" cy="251.2" r="2.15" fill="#a494e0" stroke="none" opacity="0.93"/>
<circle cx="411.7" cy="260.1" r="2.15" fill="#a494e0" stroke="none" opacity="0.93"/>
<circle cx="420.5" cy="268.3" r="2.15" fill="#a494e0" stroke="none" opacity="0.93"/>
<path d="M300.0 218.0 L340.0 232.0 L380.0 248.0 L410.0 262.0 L430.0 280.0 L440.0 300.0 L444.0 320.0 L445.0 338.0" stroke="#84a454" stroke-width="1.4" opacity="0.93"/>
<path d="M338.6 230.6 L341.4 233.4 M338.6 233.4 L341.4 230.6 M338.6 230.6 V233.4 M341.4 230.6 V233.4" stroke="#84a454" stroke-width="1.0" fill="none" opacity="0.93"/>
<path d="M408.6 260.6 L411.4 263.4 M408.6 263.4 L411.4 260.6 M408.6 260.6 V263.4 M411.4 260.6 V263.4" stroke="#84a454" stroke-width="1.0" fill="none" opacity="0.93"/>
<path d="M438.6 298.6 L441.4 301.4 M438.6 301.4 L441.4 298.6 M438.6 298.6 V301.4 M441.4 298.6 V301.4" stroke="#84a454" stroke-width="1.0" fill="none" opacity="0.93"/>
<path d="M310.9 220.9 L313.7 223.7 M310.9 223.7 L313.7 220.9 M310.9 220.9 V223.7 M313.7 220.9 V223.7" stroke="#84a454" stroke-width="1.0" fill="none" opacity="0.93"/>
<path d="M323.1 225.2 L325.9 228.0 M323.1 228.0 L325.9 225.2 M323.1 225.2 V228.0 M325.9 225.2 V228.0" stroke="#84a454" stroke-width="1.0" fill="none" opacity="0.93"/>
<path d="M347.5 234.2 L350.3 237.0 M347.5 237.0 L350.3 234.2 M347.5 234.2 V237.0 M350.3 234.2 V237.0" stroke="#84a454" stroke-width="1.0" fill="none" opacity="0.93"/>
<path d="M359.6 239.0 L362.4 241.8 M359.6 241.8 L362.4 239.0 M359.6 239.0 V241.8 M362.4 239.0 V241.8" stroke="#84a454" stroke-width="1.0" fill="none" opacity="0.93"/>
<path d="M371.7 243.8 L374.5 246.6 M371.7 246.6 L374.5 243.8 M371.7 243.8 V246.6 M374.5 243.8 V246.6" stroke="#84a454" stroke-width="1.0" fill="none" opacity="0.93"/>
<path d="M383.6 248.9 L386.4 251.7 M383.6 251.7 L386.4 248.9 M383.6 248.9 V251.7 M386.4 248.9 V251.7" stroke="#84a454" stroke-width="1.0" fill="none" opacity="0.93"/>
<path d="M395.4 254.4 L398.2 257.2 M395.4 257.2 L398.2 254.4 M395.4 254.4 V257.2 M398.2 254.4 V257.2" stroke="#84a454" stroke-width="1.0" fill="none" opacity="0.93"/>
<path d="M417.1 268.2 L419.9 271.0 M417.1 271.0 L419.9 268.2 M417.1 268.2 V271.0 M419.9 268.2 V271.0" stroke="#84a454" stroke-width="1.0" fill="none" opacity="0.93"/>
<path d="M426.8 276.9 L429.6 279.7 M426.8 279.7 L429.6 276.9 M426.8 276.9 V279.7 M429.6 276.9 V279.7" stroke="#84a454" stroke-width="1.0" fill="none" opacity="0.93"/>
<path d="M433.3 288.0 L436.1 290.8 M433.3 290.8 L436.1 288.0 M433.3 288.0 V290.8 M436.1 288.0 V290.8" stroke="#84a454" stroke-width="1.0" fill="none" opacity="0.93"/>
<path d="M441.4 312.5 L444.2 315.3 M441.4 315.3 L444.2 312.5 M441.4 312.5 V315.3 M444.2 312.5 V315.3" stroke="#84a454" stroke-width="1.0" fill="none" opacity="0.93"/>
<path d="M443.0 325.4 L445.8 328.2 M443.0 328.2 L445.8 325.4 M443.0 325.4 V328.2 M445.8 325.4 V328.2" stroke="#84a454" stroke-width="1.0" fill="none" opacity="0.93"/>
<path d="M185.0 182.6 L202.0 187.8 L225.8 196.0 L234.0 203.4 L246.7 205.8 L267.5 209.0 L275.8 214.8 L290.0 216.9 L321.0 226.0 L352.5 239.8 L383.8 251.0 L415.0 265.8 L425.0 272.0 L435.8 290.8 L444.0 307.5 L445.0 330.0" stroke="#84d464" stroke-width="1.68" opacity="0.93"/>
<path d="M183.0 182.6 H187.0 M185.0 180.6 V184.6" stroke="#84d464" stroke-width="1.0" fill="none" opacity="0.93"/>
<path d="M200.0 187.8 H204.0 M202.0 185.8 V189.8" stroke="#84d464" stroke-width="1.0" fill="none" opacity="0.93"/>
<path d="M223.8 196.0 H227.8 M225.8 194.0 V198.0" stroke="#84d464" stroke-width="1.0" fill="none" opacity="0.93"/>
<path d="M232.0 203.4 H236.0 M234.0 201.4 V205.4" stroke="#84d464" stroke-width="1.0" fill="none" opacity="0.93"/>
<path d="M244.7 205.8 H248.7 M246.7 203.8 V207.8" stroke="#84d464" stroke-width="1.0" fill="none" opacity="0.93"/>
<path d="M265.5 209.0 H269.5 M267.5 207.0 V211.0" stroke="#84d464" stroke-width="1.0" fill="none" opacity="0.93"/>
<path d="M273.8 214.8 H277.8 M275.8 212.8 V216.8" stroke="#84d464" stroke-width="1.0" fill="none" opacity="0.93"/>
<path d="M288.0 216.9 H292.0 M290.0 214.9 V218.9" stroke="#84d464" stroke-width="1.0" fill="none" opacity="0.93"/>
<path d="M319.0 226.0 H323.0 M321.0 224.0 V228.0" stroke="#84d464" stroke-width="1.0" fill="none" opacity="0.93"/>
<path d="M350.5 239.8 H354.5 M352.5 237.8 V241.8" stroke="#84d464" stroke-width="1.0" fill="none" opacity="0.93"/>
<path d="M381.8 251.0 H385.8 M383.8 249.0 V253.0" stroke="#84d464" stroke-width="1.0" fill="none" opacity="0.93"/>
<path d="M413.0 265.8 H417.0 M415.0 263.8 V267.8" stroke="#84d464" stroke-width="1.0" fill="none" opacity="0.93"/>
<path d="M423.0 272.0 H427.0 M425.0 270.0 V274.0" stroke="#84d464" stroke-width="1.0" fill="none" opacity="0.93"/>
<path d="M433.8 290.8 H437.8 M435.8 288.8 V292.8" stroke="#84d464" stroke-width="1.0" fill="none" opacity="0.93"/>
<path d="M442.0 307.5 H446.0 M444.0 305.5 V309.5" stroke="#84d464" stroke-width="1.0" fill="none" opacity="0.93"/>
<path d="M443.0 330.0 H447.0 M445.0 328.0 V332.0" stroke="#84d464" stroke-width="1.0" fill="none" opacity="0.93"/>
<path d="M301.0 220.7 H305.0 M303.0 218.7 V222.7" stroke="#84d464" stroke-width="1.0" fill="none" opacity="0.93"/>
<path d="M327.5 229.7 H331.5 M329.5 227.7 V231.7" stroke="#84d464" stroke-width="1.0" fill="none" opacity="0.93"/>
<path d="M340.3 235.3 H344.3 M342.3 233.3 V237.3" stroke="#84d464" stroke-width="1.0" fill="none" opacity="0.93"/>
<path d="M366.4 245.5 H370.4 M368.4 243.5 V247.5" stroke="#84d464" stroke-width="1.0" fill="none" opacity="0.93"/>
<path d="M392.3 256.0 H396.3 M394.3 254.0 V258.0" stroke="#84d464" stroke-width="1.0" fill="none" opacity="0.93"/>
<path d="M404.9 262.0 H408.9 M406.9 260.0 V264.0" stroke="#84d464" stroke-width="1.0" fill="none" opacity="0.93"/>
<path d="M442.4 316.5 H446.4 M444.4 314.5 V318.5" stroke="#84d464" stroke-width="1.0" fill="none" opacity="0.93"/>
<path d="M213.3 219.6 L226.9 220.0 L255.0 226.3 L261.7 226.3 L290.0 230.4 L310.8 233.5 L335.8 240.4 L373.3 249.6 L415.0 264.8 L427.5 273.8 L428.5 286.7 L440.0 289.8 L441.0 322.0" stroke="#4444c4" stroke-width="1.54" opacity="0.93"/>
<path d="M210.8 219.6 L215.1 217.3 L215.1 221.9Z" fill="#4444c4" stroke="none" opacity="0.93"/>
<path d="M224.4 220.0 L228.7 217.7 L228.7 222.3Z" fill="#4444c4" stroke="none" opacity="0.93"/>
<path d="M252.5 226.3 L256.8 224.0 L256.8 228.6Z" fill="#4444c4" stroke="none" opacity="0.93"/>
<path d="M259.2 226.3 L263.5 224.0 L263.5 228.6Z" fill="#4444c4" stroke="none" opacity="0.93"/>
<path d="M287.5 230.4 L291.8 228.1 L291.8 232.7Z" fill="#4444c4" stroke="none" opacity="0.93"/>
<path d="M308.3 233.5 L312.6 231.2 L312.6 235.8Z" fill="#4444c4" stroke="none" opacity="0.93"/>
<path d="M333.3 240.4 L337.6 238.1 L337.6 242.7Z" fill="#4444c4" stroke="none" opacity="0.93"/>
<path d="M370.8 249.6 L375.1 247.3 L375.1 251.9Z" fill="#4444c4" stroke="none" opacity="0.93"/>
<path d="M412.5 264.8 L416.8 262.5 L416.8 267.1Z" fill="#4444c4" stroke="none" opacity="0.93"/>
<path d="M425.0 273.8 L429.3 271.5 L429.3 276.1Z" fill="#4444c4" stroke="none" opacity="0.93"/>
<path d="M426.0 286.7 L430.3 284.4 L430.3 289.0Z" fill="#4444c4" stroke="none" opacity="0.93"/>
<path d="M437.5 289.8 L441.8 287.5 L441.8 292.1Z" fill="#4444c4" stroke="none" opacity="0.93"/>
<path d="M438.5 322.0 L442.8 319.7 L442.8 324.3Z" fill="#4444c4" stroke="none" opacity="0.93"/>
<path d="M167.5 185.7 L203.0 195.0 L255.0 205.8 L275.8 215.8 L290.0 222.0 L310.8 232.5 L324.4 243.0 L351.5 249.0 L364.0 259.6 L377.0 261.0 L388.0 273.8 L398.0 277.0 L401.5 279.4 L420.8 290.8" stroke="#303030" stroke-width="1.4" opacity="0.93"/>
<circle cx="167.5" cy="185.7" r="2.15" fill="#303030" stroke="none" opacity="0.93"/>
<circle cx="255.0" cy="205.8" r="2.15" fill="#303030" stroke="none" opacity="0.93"/>
<circle cx="401.5" cy="279.4" r="2.15" fill="#303030" stroke="none" opacity="0.93"/>
<circle cx="303.9" cy="229.0" r="2.15" fill="#303030" stroke="none" opacity="0.93"/>
<circle cx="319.0" cy="238.8" r="2.15" fill="#303030" stroke="none" opacity="0.93"/>
<circle cx="335.3" cy="245.4" r="2.15" fill="#303030" stroke="none" opacity="0.93"/>
<circle cx="352.6" cy="249.9" r="2.15" fill="#303030" stroke="none" opacity="0.93"/>
<circle cx="367.0" cy="259.9" r="2.15" fill="#303030" stroke="none" opacity="0.93"/>
<circle cx="382.2" cy="267.0" r="2.15" fill="#303030" stroke="none" opacity="0.93"/>
<circle cx="412.1" cy="285.7" r="2.15" fill="#303030" stroke="none" opacity="0.93"/>
<path d="M237.3 215.2 L247.0 217.9 L275.8 222.0 L287.7 229.4 L310.8 232.5 L324.4 243.0 L351.5 249.0 L364.0 259.6 L377.0 261.0 L388.0 273.0 L397.3 273.8 L398.3 285.6 L407.7 287.7 L420.0 291.9 L427.0 307.5 L433.8 321.0 L435.8 341.9 L441.7 343.0" stroke="#343474" stroke-width="1.54" opacity="0.93"/>
<circle cx="237.3" cy="215.2" r="2.15" fill="#343474" stroke="none" opacity="0.93"/>
<circle cx="247.0" cy="217.9" r="2.15" fill="#343474" stroke="none" opacity="0.93"/>
<circle cx="275.8" cy="222.0" r="2.15" fill="#343474" stroke="none" opacity="0.93"/>
<circle cx="287.7" cy="229.4" r="2.15" fill="#343474" stroke="none" opacity="0.93"/>
<circle cx="310.8" cy="232.5" r="2.15" fill="#343474" stroke="none" opacity="0.93"/>
<circle cx="324.4" cy="243.0" r="2.15" fill="#343474" stroke="none" opacity="0.93"/>
<circle cx="351.5" cy="249.0" r="2.15" fill="#343474" stroke="none" opacity="0.93"/>
<circle cx="364.0" cy="259.6" r="2.15" fill="#343474" stroke="none" opacity="0.93"/>
<circle cx="377.0" cy="261.0" r="2.15" fill="#343474" stroke="none" opacity="0.93"/>
<circle cx="388.0" cy="273.0" r="2.15" fill="#343474" stroke="none" opacity="0.93"/>
<circle cx="397.3" cy="273.8" r="2.15" fill="#343474" stroke="none" opacity="0.93"/>
<circle cx="398.3" cy="285.6" r="2.15" fill="#343474" stroke="none" opacity="0.93"/>
<circle cx="407.7" cy="287.7" r="2.15" fill="#343474" stroke="none" opacity="0.93"/>
<circle cx="420.0" cy="291.9" r="2.15" fill="#343474" stroke="none" opacity="0.93"/>
<circle cx="427.0" cy="307.5" r="2.15" fill="#343474" stroke="none" opacity="0.93"/>
<circle cx="433.8" cy="321.0" r="2.15" fill="#343474" stroke="none" opacity="0.93"/>
<circle cx="435.8" cy="341.9" r="2.15" fill="#343474" stroke="none" opacity="0.93"/>
<circle cx="441.7" cy="343.0" r="2.15" fill="#343474" stroke="none" opacity="0.93"/>
<path d="M237.0 214.8 L261.0 215.8 L290.0 214.8 L307.7 216.3 L336.9 221.0 L363.0 227.3 L379.6 231.5 L392.0 233.5 L394.0 236.7 L403.5 237.7 L404.6 245.0 L415.0 246.0 L416.0 252.3 L428.0 262.0 L436.0 280.0" stroke="#946050" stroke-width="1.4" opacity="0.93"/>
<path d="M259.0 215.8 H263.0 M261.0 213.8 V217.8" stroke="#946050" stroke-width="1.0" fill="none" opacity="0.93"/>
<path d="M305.7 216.3 H309.7 M307.7 214.3 V218.3" stroke="#946050" stroke-width="1.0" fill="none" opacity="0.93"/>
<path d="M334.9 221.0 H338.9 M336.9 219.0 V223.0" stroke="#946050" stroke-width="1.0" fill="none" opacity="0.93"/>
<path d="M361.0 227.3 H365.0 M363.0 225.3 V229.3" stroke="#946050" stroke-width="1.0" fill="none" opacity="0.93"/>
<path d="M377.6 231.5 H381.6 M379.6 229.5 V233.5" stroke="#946050" stroke-width="1.0" fill="none" opacity="0.93"/>
<path d="M390.0 233.5 H394.0 M392.0 231.5 V235.5" stroke="#946050" stroke-width="1.0" fill="none" opacity="0.93"/>
<path d="M401.5 237.7 H405.5 M403.5 235.7 V239.7" stroke="#946050" stroke-width="1.0" fill="none" opacity="0.93"/>
<path d="M413.0 246.0 H417.0 M415.0 244.0 V248.0" stroke="#946050" stroke-width="1.0" fill="none" opacity="0.93"/>
<path d="M418.3 255.8 H422.3 M420.3 253.8 V257.8" stroke="#946050" stroke-width="1.0" fill="none" opacity="0.93"/>
<path d="M426.1 262.1 H430.1 M428.1 260.1 V264.1" stroke="#946050" stroke-width="1.0" fill="none" opacity="0.93"/>
<path d="M430.1 271.3 H434.1 M432.1 269.3 V273.3" stroke="#946050" stroke-width="1.0" fill="none" opacity="0.93"/>
<path d="M184.6 188.8 L249.8 192.0 L290.0 198.5 L299.4 200.2 L326.5 207.5 L339.0 208.0 L357.7 216.9 L369.0 217.5 L372.3 224.2 L390.0 227.3 L405.0 232.0 L418.0 242.0 L428.0 256.0 L436.0 275.0" stroke="#306464" stroke-width="1.4" opacity="0.93"/>
<path d="M183.2 187.4 L186.0 190.2 M183.2 190.2 L186.0 187.4 M183.2 187.4 V190.2 M186.0 187.4 V190.2" stroke="#306464" stroke-width="1.0" fill="none" opacity="0.93"/>
<path d="M248.4 190.6 L251.2 193.4 M248.4 193.4 L251.2 190.6 M248.4 190.6 V193.4 M251.2 190.6 V193.4" stroke="#306464" stroke-width="1.0" fill="none" opacity="0.93"/>
<path d="M294.6 198.1 L297.4 200.9 M294.6 200.9 L297.4 198.1 M294.6 198.1 V200.9 M297.4 198.1 V200.9" stroke="#306464" stroke-width="1.0" fill="none" opacity="0.93"/>
<path d="M298.0 198.8 L300.8 201.6 M298.0 201.6 L300.8 198.8 M298.0 198.8 V201.6 M300.8 198.8 V201.6" stroke="#306464" stroke-width="1.0" fill="none" opacity="0.93"/>
<path d="M325.1 206.1 L327.9 208.9 M325.1 208.9 L327.9 206.1 M325.1 206.1 V208.9 M327.9 206.1 V208.9" stroke="#306464" stroke-width="1.0" fill="none" opacity="0.93"/>
<path d="M337.6 206.6 L340.4 209.4 M337.6 209.4 L340.4 206.6 M337.6 206.6 V209.4 M340.4 206.6 V209.4" stroke="#306464" stroke-width="1.0" fill="none" opacity="0.93"/>
<path d="M356.3 215.5 L359.1 218.3 M356.3 218.3 L359.1 215.5 M356.3 215.5 V218.3 M359.1 215.5 V218.3" stroke="#306464" stroke-width="1.0" fill="none" opacity="0.93"/>
<path d="M367.6 216.1 L370.4 218.9 M367.6 218.9 L370.4 216.1 M367.6 216.1 V218.9 M370.4 216.1 V218.9" stroke="#306464" stroke-width="1.0" fill="none" opacity="0.93"/>
<path d="M370.9 222.8 L373.7 225.6 M370.9 225.6 L373.7 222.8 M370.9 222.8 V225.6 M373.7 222.8 V225.6" stroke="#306464" stroke-width="1.0" fill="none" opacity="0.93"/>
<path d="M379.2 224.2 L382.0 227.0 M379.2 227.0 L382.0 224.2 M379.2 224.2 V227.0 M382.0 224.2 V227.0" stroke="#306464" stroke-width="1.0" fill="none" opacity="0.93"/>
<path d="M390.9 226.6 L393.7 229.4 M390.9 229.4 L393.7 226.6 M390.9 226.6 V229.4 M393.7 226.6 V229.4" stroke="#306464" stroke-width="1.0" fill="none" opacity="0.93"/>
<path d="M402.3 230.2 L405.1 233.0 M402.3 233.0 L405.1 230.2 M402.3 230.2 V233.0 M405.1 230.2 V233.0" stroke="#306464" stroke-width="1.0" fill="none" opacity="0.93"/>
<path d="M412.1 237.1 L414.9 239.9 M412.1 239.9 L414.9 237.1 M412.1 237.1 V239.9 M414.9 237.1 V239.9" stroke="#306464" stroke-width="1.0" fill="none" opacity="0.93"/>
<path d="M420.3 245.7 L423.1 248.5 M420.3 248.5 L423.1 245.7 M420.3 245.7 V248.5 M423.1 245.7 V248.5" stroke="#306464" stroke-width="1.0" fill="none" opacity="0.93"/>
<path d="M427.0 255.6 L429.8 258.4 M427.0 258.4 L429.8 255.6 M427.0 255.6 V258.4 M429.8 255.6 V258.4" stroke="#306464" stroke-width="1.0" fill="none" opacity="0.93"/>
<path d="M431.7 266.7 L434.5 269.5 M431.7 269.5 L434.5 266.7 M431.7 266.7 V269.5 M434.5 266.7 V269.5" stroke="#306464" stroke-width="1.0" fill="none" opacity="0.93"/>
<path d="M173.8 181.5 L201.9 185.0 L234.2 185.7 L270.6 186.3 L290.0 187.8 L330.0 192.0 L370.0 203.0 L400.0 212.0 L415.0 218.0 L427.5 230.4 L435.8 245.0 L444.0 257.5 L445.0 278.0" stroke="#909050" stroke-width="1.4" opacity="0.93"/>
<path d="M171.3 181.5 L175.6 179.2 L175.6 183.8Z" fill="#909050" stroke="none" opacity="0.93"/>
<path d="M199.4 185.0 L203.7 182.7 L203.7 187.3Z" fill="#909050" stroke="none" opacity="0.93"/>
<path d="M231.7 185.7 L236.0 183.4 L236.0 188.0Z" fill="#909050" stroke="none" opacity="0.93"/>
<path d="M268.1 186.3 L272.4 184.0 L272.4 188.6Z" fill="#909050" stroke="none" opacity="0.93"/>
<path d="M412.5 218.0 L416.8 215.7 L416.8 220.3Z" fill="#909050" stroke="none" opacity="0.93"/>
<path d="M425.0 230.4 L429.3 228.1 L429.3 232.7Z" fill="#909050" stroke="none" opacity="0.93"/>
<path d="M433.3 245.0 L437.6 242.7 L437.6 247.3Z" fill="#909050" stroke="none" opacity="0.93"/>
<path d="M310.9 190.3 L315.2 188.0 L315.2 192.6Z" fill="#909050" stroke="none" opacity="0.93"/>
<path d="M324.8 191.7 L329.1 189.4 L329.1 194.0Z" fill="#909050" stroke="none" opacity="0.93"/>
<path d="M338.4 195.0 L342.7 192.7 L342.7 197.3Z" fill="#909050" stroke="none" opacity="0.93"/>
<path d="M351.9 198.7 L356.2 196.4 L356.2 201.0Z" fill="#909050" stroke="none" opacity="0.93"/>
<path d="M365.4 202.4 L369.7 200.1 L369.7 204.7Z" fill="#909050" stroke="none" opacity="0.93"/>
<path d="M378.8 206.4 L383.1 204.1 L383.1 208.7Z" fill="#909050" stroke="none" opacity="0.93"/>
<path d="M392.2 210.4 L396.5 208.1 L396.5 212.7Z" fill="#909050" stroke="none" opacity="0.93"/>
<path d="M440.9 256.6 L445.2 254.3 L445.2 258.9Z" fill="#909050" stroke="none" opacity="0.93"/>
<path d="M442.1 270.5 L446.4 268.2 L446.4 272.8Z" fill="#909050" stroke="none" opacity="0.93"/>
<path d="M157.5 173.2 L182.0 178.4 L203.0 178.0 L230.0 179.9 L249.8 185.0 L290.0 186.8 L320.0 190.0 L350.0 197.0 L380.0 208.0 L400.0 218.0 L415.0 230.0 L428.0 246.0 L438.0 268.0" stroke="#506850" stroke-width="1.4" opacity="0.93"/>
<circle cx="157.5" cy="173.2" r="2.15" fill="#506850" stroke="none" opacity="0.93"/>
<circle cx="182.0" cy="178.4" r="2.15" fill="#506850" stroke="none" opacity="0.93"/>
<circle cx="203.0" cy="178.0" r="2.15" fill="#506850" stroke="none" opacity="0.93"/>
<circle cx="230.0" cy="179.9" r="2.15" fill="#506850" stroke="none" opacity="0.93"/>
<circle cx="249.8" cy="185.0" r="2.15" fill="#506850" stroke="none" opacity="0.93"/>
<circle cx="268.2" cy="185.8" r="2.15" fill="#506850" stroke="none" opacity="0.93"/>
<circle cx="282.2" cy="186.5" r="2.15" fill="#506850" stroke="none" opacity="0.93"/>
<circle cx="296.2" cy="187.5" r="2.15" fill="#506850" stroke="none" opacity="0.93"/>
<circle cx="310.1" cy="188.9" r="2.15" fill="#506850" stroke="none" opacity="0.93"/>
<circle cx="323.9" cy="190.9" r="2.15" fill="#506850" stroke="none" opacity="0.93"/>
<circle cx="337.6" cy="194.1" r="2.15" fill="#506850" stroke="none" opacity="0.93"/>
<circle cx="351.1" cy="197.4" r="2.15" fill="#506850" stroke="none" opacity="0.93"/>
<circle cx="364.3" cy="202.2" r="2.15" fill="#506850" stroke="none" opacity="0.93"/>
<circle cx="377.4" cy="207.1" r="2.15" fill="#506850" stroke="none" opacity="0.93"/>
<circle cx="390.1" cy="213.0" r="2.15" fill="#506850" stroke="none" opacity="0.93"/>
<circle cx="402.3" cy="219.8" r="2.15" fill="#506850" stroke="none" opacity="0.93"/>
<circle cx="413.2" cy="228.6" r="2.15" fill="#506850" stroke="none" opacity="0.93"/>
<circle cx="422.4" cy="239.1" r="2.15" fill="#506850" stroke="none" opacity="0.93"/>
<circle cx="430.1" cy="250.6" r="2.15" fill="#506850" stroke="none" opacity="0.93"/>
<circle cx="435.9" cy="263.4" r="2.15" fill="#506850" stroke="none" opacity="0.93"/>
<path d="M165.8 161.8 L192.5 174.3 L229.0 176.3 L255.0 182.6 L290.0 186.8 L304.6 193.0 L321.0 196.0 L342.0 203.4 L360.0 212.0 L380.0 222.0 L400.0 236.0 L415.0 250.0 L425.0 262.0 L432.0 275.0 L438.0 295.0" stroke="#b4e474" stroke-width="1.54" opacity="0.93"/>
<path d="M163.3 161.8 L167.6 159.5 L167.6 164.1Z" fill="#b4e474" stroke="none" opacity="0.93"/>
<path d="M190.0 174.3 L194.3 172.0 L194.3 176.6Z" fill="#b4e474" stroke="none" opacity="0.93"/>
<path d="M226.5 176.3 L230.8 174.0 L230.8 178.6Z" fill="#b4e474" stroke="none" opacity="0.93"/>
<path d="M302.1 193.0 L306.4 190.7 L306.4 195.3Z" fill="#b4e474" stroke="none" opacity="0.93"/>
<path d="M339.5 203.4 L343.8 201.1 L343.8 205.7Z" fill="#b4e474" stroke="none" opacity="0.93"/>
<path d="M397.5 236.0 L401.8 233.7 L401.8 238.3Z" fill="#b4e474" stroke="none" opacity="0.93"/>
<path d="M312.0 194.8 L316.3 192.5 L316.3 197.1Z" fill="#b4e474" stroke="none" opacity="0.93"/>
<path d="M325.5 198.5 L329.8 196.2 L329.8 200.8Z" fill="#b4e474" stroke="none" opacity="0.93"/>
<path d="M351.4 209.1 L355.7 206.8 L355.7 211.4Z" fill="#b4e474" stroke="none" opacity="0.93"/>
<path d="M364.0 215.2 L368.3 212.9 L368.3 217.5Z" fill="#b4e474" stroke="none" opacity="0.93"/>
<path d="M376.5 221.5 L380.8 219.2 L380.8 223.8Z" fill="#b4e474" stroke="none" opacity="0.93"/>
<path d="M388.0 229.4 L392.3 227.1 L392.3 231.7Z" fill="#b4e474" stroke="none" opacity="0.93"/>
<path d="M409.5 247.2 L413.8 244.9 L413.8 249.5Z" fill="#b4e474" stroke="none" opacity="0.93"/>
<path d="M418.9 257.6 L423.2 255.3 L423.2 259.9Z" fill="#b4e474" stroke="none" opacity="0.93"/>
<path d="M426.4 269.3 L430.7 267.0 L430.7 271.6Z" fill="#b4e474" stroke="none" opacity="0.93"/>
<path d="M431.7 282.2 L436.0 279.9 L436.0 284.5Z" fill="#b4e474" stroke="none" opacity="0.93"/>
<path d="M247.7 174.3 L259.0 177.4 L270.6 188.8 L290.0 189.5 L317.0 191.0 L331.7 196.0 L348.0 200.0 L358.8 207.5 L377.5 213.8 L390.0 222.0 L402.5 234.6 L410.8 243.0 L423.0 253.0 L431.7 268.0 L436.0 285.0" stroke="#d2503c" stroke-width="1.68" opacity="0.93"/>
<circle cx="247.7" cy="174.3" r="2.15" fill="#d2503c" stroke="none" opacity="0.93"/>
<circle cx="259.0" cy="177.4" r="2.15" fill="#d2503c" stroke="none" opacity="0.93"/>
<circle cx="270.6" cy="188.8" r="2.15" fill="#d2503c" stroke="none" opacity="0.93"/>
<circle cx="317.0" cy="191.0" r="2.15" fill="#d2503c" stroke="none" opacity="0.93"/>
<circle cx="348.0" cy="200.0" r="2.15" fill="#d2503c" stroke="none" opacity="0.93"/>
<circle cx="377.5" cy="213.8" r="2.15" fill="#d2503c" stroke="none" opacity="0.93"/>
<circle cx="402.5" cy="234.6" r="2.15" fill="#d2503c" stroke="none" opacity="0.93"/>
<circle cx="307.6" cy="190.5" r="2.15" fill="#d2503c" stroke="none" opacity="0.93"/>
<circle cx="332.7" cy="196.2" r="2.15" fill="#d2503c" stroke="none" opacity="0.93"/>
<circle cx="356.4" cy="205.8" r="2.15" fill="#d2503c" stroke="none" opacity="0.93"/>
<circle cx="368.4" cy="210.7" r="2.15" fill="#d2503c" stroke="none" opacity="0.93"/>
<circle cx="391.0" cy="223.0" r="2.15" fill="#d2503c" stroke="none" opacity="0.93"/>
<circle cx="409.3" cy="241.5" r="2.15" fill="#d2503c" stroke="none" opacity="0.93"/>
<circle cx="419.2" cy="249.9" r="2.15" fill="#d2503c" stroke="none" opacity="0.93"/>
<circle cx="427.1" cy="260.0" r="2.15" fill="#d2503c" stroke="none" opacity="0.93"/>
<circle cx="432.6" cy="271.6" r="2.15" fill="#d2503c" stroke="none" opacity="0.93"/>
<circle cx="435.8" cy="284.2" r="2.15" fill="#d2503c" stroke="none" opacity="0.93"/>
<path d="M330.0 190.0 L360.0 198.0 L390.0 210.0 L410.0 225.0 L425.0 240.0 L434.0 260.0 L438.0 280.0" stroke="#d454a4" stroke-width="1.4" opacity="0.93"/>
<path d="M358.0 198.0 H362.0 M360.0 196.0 V200.0" stroke="#d454a4" stroke-width="1.0" fill="none" opacity="0.93"/>
<path d="M408.0 225.0 H412.0 M410.0 223.0 V227.0" stroke="#d454a4" stroke-width="1.0" fill="none" opacity="0.93"/>
<path d="M432.0 260.0 H436.0 M434.0 258.0 V262.0" stroke="#d454a4" stroke-width="1.0" fill="none" opacity="0.93"/>
<path d="M339.6 193.1 H343.6 M341.6 191.1 V195.1" stroke="#d454a4" stroke-width="1.0" fill="none" opacity="0.93"/>
<path d="M351.2 196.2 H355.2 M353.2 194.2 V198.2" stroke="#d454a4" stroke-width="1.0" fill="none" opacity="0.93"/>
<path d="M373.7 204.3 H377.7 M375.7 202.3 V206.3" stroke="#d454a4" stroke-width="1.0" fill="none" opacity="0.93"/>
<path d="M384.9 208.8 H388.9 M386.9 206.8 V210.8" stroke="#d454a4" stroke-width="1.0" fill="none" opacity="0.93"/>
<path d="M394.9 215.2 H398.9 M396.9 213.2 V217.2" stroke="#d454a4" stroke-width="1.0" fill="none" opacity="0.93"/>
<path d="M413.4 230.4 H417.4 M415.4 228.4 V232.4" stroke="#d454a4" stroke-width="1.0" fill="none" opacity="0.93"/>
<path d="M421.9 238.9 H425.9 M423.9 236.9 V240.9" stroke="#d454a4" stroke-width="1.0" fill="none" opacity="0.93"/>
<path d="M427.3 249.5 H431.3 M429.3 247.5 V251.5" stroke="#d454a4" stroke-width="1.0" fill="none" opacity="0.93"/>
<path d="M434.5 272.3 H438.5 M436.5 270.3 V274.3" stroke="#d454a4" stroke-width="1.0" fill="none" opacity="0.93"/>
<path d="M142.1 130.5 L172.7 148.2 L207.0 156.5 L246.7 164.9 L290.0 174.0 L306.7 180.5 L323.0 184.7 L338.0 190.0 L356.7 196.0 L379.6 203.3 L394.0 215.8 L406.7 226.0 L419.0 234.6 L428.5 255.4 L433.8 270.0 L435.8 285.0" stroke="#5a2aa0" stroke-width="1.68" opacity="0.93"/>
<circle cx="142.1" cy="130.5" r="2.15" fill="#5a2aa0" stroke="none" opacity="0.93"/>
<circle cx="172.7" cy="148.2" r="2.15" fill="#5a2aa0" stroke="none" opacity="0.93"/>
<circle cx="207.0" cy="156.5" r="2.15" fill="#5a2aa0" stroke="none" opacity="0.93"/>
<circle cx="246.7" cy="164.9" r="2.15" fill="#5a2aa0" stroke="none" opacity="0.93"/>
<circle cx="306.7" cy="180.5" r="2.15" fill="#5a2aa0" stroke="none" opacity="0.93"/>
<circle cx="338.0" cy="190.0" r="2.15" fill="#5a2aa0" stroke="none" opacity="0.93"/>
<circle cx="379.6" cy="203.3" r="2.15" fill="#5a2aa0" stroke="none" opacity="0.93"/>
<circle cx="419.0" cy="234.6" r="2.15" fill="#5a2aa0" stroke="none" opacity="0.93"/>
<circle cx="327.5" cy="186.3" r="2.15" fill="#5a2aa0" stroke="none" opacity="0.93"/>
<circle cx="356.0" cy="195.8" r="2.15" fill="#5a2aa0" stroke="none" opacity="0.93"/>
<circle cx="370.3" cy="200.3" r="2.15" fill="#5a2aa0" stroke="none" opacity="0.93"/>
<circle cx="394.9" cy="216.5" r="2.15" fill="#5a2aa0" stroke="none" opacity="0.93"/>
<circle cx="406.6" cy="225.9" r="2.15" fill="#5a2aa0" stroke="none" opacity="0.93"/>
<circle cx="425.2" cy="248.1" r="2.15" fill="#5a2aa0" stroke="none" opacity="0.93"/>
<circle cx="430.9" cy="261.9" r="2.15" fill="#5a2aa0" stroke="none" opacity="0.93"/>
<circle cx="434.7" cy="276.4" r="2.15" fill="#5a2aa0" stroke="none" opacity="0.93"/>
<path d="M162.3 146.5 L172.7 148.2 L200.0 153.0 L246.0 163.0 L290.0 172.0 L320.0 180.0 L350.0 189.0 L380.0 199.0 L400.0 210.0 L415.0 224.0 L425.0 240.0 L431.0 258.0 L436.0 280.0" stroke="#a030c0" stroke-width="1.8199999999999998" opacity="0.93"/>
<path d="M160.3 146.5 H164.3 M162.3 144.5 V148.5" stroke="#a030c0" stroke-width="1.0" fill="none" opacity="0.93"/>
<path d="M198.0 153.0 H202.0 M200.0 151.0 V155.0" stroke="#a030c0" stroke-width="1.0" fill="none" opacity="0.93"/>
<path d="M244.0 163.0 H248.0 M246.0 161.0 V165.0" stroke="#a030c0" stroke-width="1.0" fill="none" opacity="0.93"/>
<path d="M318.0 180.0 H322.0 M320.0 178.0 V182.0" stroke="#a030c0" stroke-width="1.0" fill="none" opacity="0.93"/>
<path d="M378.0 199.0 H382.0 M380.0 197.0 V201.0" stroke="#a030c0" stroke-width="1.0" fill="none" opacity="0.93"/>
<path d="M413.0 224.0 H417.0 M415.0 222.0 V226.0" stroke="#a030c0" stroke-width="1.0" fill="none" opacity="0.93"/>
<path d="M300.3 175.3 H304.3 M302.3 173.3 V177.3" stroke="#a030c0" stroke-width="1.0" fill="none" opacity="0.93"/>
<path d="M325.4 182.2 H329.4 M327.4 180.2 V184.2" stroke="#a030c0" stroke-width="1.0" fill="none" opacity="0.93"/>
<path d="M337.8 186.0 H341.8 M339.8 184.0 V188.0" stroke="#a030c0" stroke-width="1.0" fill="none" opacity="0.93"/>
<path d="M350.3 189.8 H354.3 M352.3 187.8 V191.8" stroke="#a030c0" stroke-width="1.0" fill="none" opacity="0.93"/>
<path d="M362.6 193.9 H366.6 M364.6 191.9 V195.9" stroke="#a030c0" stroke-width="1.0" fill="none" opacity="0.93"/>
<path d="M386.6 203.7 H390.6 M388.6 201.7 V205.7" stroke="#a030c0" stroke-width="1.0" fill="none" opacity="0.93"/>
<path d="M397.9 210.0 H401.9 M399.9 208.0 V212.0" stroke="#a030c0" stroke-width="1.0" fill="none" opacity="0.93"/>
<path d="M407.5 218.8 H411.5 M409.5 216.8 V220.8" stroke="#a030c0" stroke-width="1.0" fill="none" opacity="0.93"/>
<path d="M422.8 239.6 H426.8 M424.8 237.6 V241.6" stroke="#a030c0" stroke-width="1.0" fill="none" opacity="0.93"/>
<path d="M427.0 251.9 H431.0 M429.0 249.9 V253.9" stroke="#a030c0" stroke-width="1.0" fill="none" opacity="0.93"/>
<path d="M430.5 264.4 H434.5 M432.5 262.4 V266.4" stroke="#a030c0" stroke-width="1.0" fill="none" opacity="0.93"/>
<path d="M433.3 277.1 H437.3 M435.3 275.1 V279.1" stroke="#a030c0" stroke-width="1.0" fill="none" opacity="0.93"/>
<path d="M172.0 147.5 L230.0 158.0 L290.0 170.5 L330.0 181.5 L370.0 194.0 L395.0 205.0 L412.0 219.0" stroke="#a030c0" stroke-width="1.4" opacity="0.93"/>
<path d="M180.0 146.0 L230.0 156.0 L300.0 172.0 L330.0 180.0 L360.0 190.0 L390.0 203.0 L412.0 217.0 L428.0 234.0 L438.0 255.0 L443.0 280.0" stroke="#682468" stroke-width="1.4" opacity="0.93"/>
<path d="M297.5 172.0 L301.8 169.7 L301.8 174.3Z" fill="#682468" stroke="none" opacity="0.93"/>
<path d="M357.5 190.0 L361.8 187.7 L361.8 192.3Z" fill="#682468" stroke="none" opacity="0.93"/>
<path d="M409.5 217.0 L413.8 214.7 L413.8 219.3Z" fill="#682468" stroke="none" opacity="0.93"/>
<path d="M314.1 176.4 L318.4 174.1 L318.4 178.7Z" fill="#682468" stroke="none" opacity="0.93"/>
<path d="M327.6 180.0 L331.9 177.7 L331.9 182.3Z" fill="#682468" stroke="none" opacity="0.93"/>
<path d="M340.9 184.5 L345.2 182.2 L345.2 186.8Z" fill="#682468" stroke="none" opacity="0.93"/>
<path d="M367.2 194.2 L371.5 191.9 L371.5 196.5Z" fill="#682468" stroke="none" opacity="0.93"/>
<path d="M380.0 199.8 L384.3 197.5 L384.3 202.1Z" fill="#682468" stroke="none" opacity="0.93"/>
<path d="M392.4 206.1 L396.7 203.8 L396.7 208.4Z" fill="#682468" stroke="none" opacity="0.93"/>
<path d="M414.8 222.7 L419.1 220.4 L419.1 225.0Z" fill="#682468" stroke="none" opacity="0.93"/>
<path d="M424.4 232.8 L428.7 230.5 L428.7 235.1Z" fill="#682468" stroke="none" opacity="0.93"/>
<path d="M430.8 245.2 L435.1 242.9 L435.1 247.5Z" fill="#682468" stroke="none" opacity="0.93"/>
<path d="M436.1 258.1 L440.4 255.8 L440.4 260.4Z" fill="#682468" stroke="none" opacity="0.93"/>
<path d="M438.9 271.8 L443.2 269.5 L443.2 274.1Z" fill="#682468" stroke="none" opacity="0.93"/>
<path d="M158.0 136.8 L185.0 146.0 L230.0 153.0 L290.0 164.0 L340.0 176.0 L380.0 190.0 L410.0 206.0 L430.0 228.0 L441.0 255.0 L445.0 290.0" stroke="#e6c8e8" stroke-width="1.68" opacity="0.93"/>
<path d="M155.5 136.8 L159.8 134.5 L159.8 139.1Z" fill="#e6c8e8" stroke="none" opacity="0.93"/>
<path d="M311.7 169.8 L316.0 167.5 L316.0 172.1Z" fill="#e6c8e8" stroke="none" opacity="0.93"/>
<path d="M327.3 173.6 L331.6 171.3 L331.6 175.9Z" fill="#e6c8e8" stroke="none" opacity="0.93"/>
<path d="M342.7 177.8 L347.0 175.5 L347.0 180.1Z" fill="#e6c8e8" stroke="none" opacity="0.93"/>
<path d="M357.8 183.1 L362.1 180.8 L362.1 185.4Z" fill="#e6c8e8" stroke="none" opacity="0.93"/>
<path d="M372.9 188.4 L377.2 186.1 L377.2 190.7Z" fill="#e6c8e8" stroke="none" opacity="0.93"/>
<path d="M387.3 195.2 L391.6 192.9 L391.6 197.5Z" fill="#e6c8e8" stroke="none" opacity="0.93"/>
<path d="M401.4 202.8 L405.7 200.5 L405.7 205.1Z" fill="#e6c8e8" stroke="none" opacity="0.93"/>
<path d="M413.6 212.8 L417.9 210.5 L417.9 215.1Z" fill="#e6c8e8" stroke="none" opacity="0.93"/>
<path d="M424.4 224.6 L428.7 222.3 L428.7 226.9Z" fill="#e6c8e8" stroke="none" opacity="0.93"/>
<path d="M431.8 238.6 L436.1 236.3 L436.1 240.9Z" fill="#e6c8e8" stroke="none" opacity="0.93"/>
<path d="M437.8 253.4 L442.1 251.1 L442.1 255.7Z" fill="#e6c8e8" stroke="none" opacity="0.93"/>
<path d="M440.1 269.2 L444.4 266.9 L444.4 271.5Z" fill="#e6c8e8" stroke="none" opacity="0.93"/>
<path d="M441.9 285.1 L446.2 282.8 L446.2 287.4Z" fill="#e6c8e8" stroke="none" opacity="0.93"/>
<path d="M195.3 141.9 L230.0 144.4 L260.0 146.0 L290.0 149.5" stroke="#e6c8e8" stroke-width="1.68" opacity="0.93"/>
<circle cx="195.3" cy="141.9" r="2.15" fill="#e6c8e8" stroke="none" opacity="0.93"/>
<path d="M272.7 176.3 L282.0 170.0 L290.0 170.0 L320.0 178.0 L350.0 187.0 L380.0 197.0 L400.0 206.0 L420.0 218.0 L432.0 232.0 L440.0 250.0 L444.0 270.0" stroke="#d884b4" stroke-width="1.68" opacity="0.93"/>
<path d="M271.3 174.9 L274.1 177.7 M271.3 177.7 L274.1 174.9 M271.3 174.9 V177.7 M274.1 174.9 V177.7" stroke="#d884b4" stroke-width="1.0" fill="none" opacity="0.93"/>
<path d="M318.6 176.6 L321.4 179.4 M318.6 179.4 L321.4 176.6 M318.6 176.6 V179.4 M321.4 176.6 V179.4" stroke="#d884b4" stroke-width="1.0" fill="none" opacity="0.93"/>
<path d="M348.6 185.6 L351.4 188.4 M348.6 188.4 L351.4 185.6 M348.6 185.6 V188.4 M351.4 185.6 V188.4" stroke="#d884b4" stroke-width="1.0" fill="none" opacity="0.93"/>
<path d="M378.6 195.6 L381.4 198.4 M378.6 198.4 L381.4 195.6 M378.6 195.6 V198.4 M381.4 195.6 V198.4" stroke="#d884b4" stroke-width="1.0" fill="none" opacity="0.93"/>
<path d="M398.6 204.6 L401.4 207.4 M398.6 207.4 L401.4 204.6 M398.6 204.6 V207.4 M401.4 204.6 V207.4" stroke="#d884b4" stroke-width="1.0" fill="none" opacity="0.93"/>
<path d="M299.0 171.4 L301.8 174.2 M299.0 174.2 L301.8 171.4 M299.0 171.4 V174.2 M301.8 171.4 V174.2" stroke="#d884b4" stroke-width="1.0" fill="none" opacity="0.93"/>
<path d="M308.7 174.0 L311.5 176.8 M308.7 176.8 L311.5 174.0 M308.7 174.0 V176.8 M311.5 174.0 V176.8" stroke="#d884b4" stroke-width="1.0" fill="none" opacity="0.93"/>
<path d="M327.9 179.4 L330.7 182.2 M327.9 182.2 L330.7 179.4 M327.9 179.4 V182.2 M330.7 179.4 V182.2" stroke="#d884b4" stroke-width="1.0" fill="none" opacity="0.93"/>
<path d="M337.5 182.3 L340.3 185.1 M337.5 185.1 L340.3 182.3 M337.5 182.3 V185.1 M340.3 182.3 V185.1" stroke="#d884b4" stroke-width="1.0" fill="none" opacity="0.93"/>
<path d="M356.6 188.3 L359.4 191.1 M356.6 191.1 L359.4 188.3 M356.6 188.3 V191.1 M359.4 188.3 V191.1" stroke="#d884b4" stroke-width="1.0" fill="none" opacity="0.93"/>
<path d="M366.1 191.4 L368.9 194.2 M366.1 194.2 L368.9 191.4 M366.1 191.4 V194.2 M368.9 191.4 V194.2" stroke="#d884b4" stroke-width="1.0" fill="none" opacity="0.93"/>
<path d="M384.8 198.4 L387.6 201.2 M384.8 201.2 L387.6 198.4 M384.8 198.4 V201.2 M387.6 198.4 V201.2" stroke="#d884b4" stroke-width="1.0" fill="none" opacity="0.93"/>
<path d="M411.3 212.2 L414.1 215.0 M411.3 215.0 L414.1 212.2 M411.3 212.2 V215.0 M414.1 212.2 V215.0" stroke="#d884b4" stroke-width="1.0" fill="none" opacity="0.93"/>
<path d="M419.6 217.8 L422.4 220.6 M419.6 220.6 L422.4 217.8 M419.6 217.8 V220.6 M422.4 217.8 V220.6" stroke="#d884b4" stroke-width="1.0" fill="none" opacity="0.93"/>
<path d="M426.1 225.3 L428.9 228.1 M426.1 228.1 L428.9 225.3 M426.1 225.3 V228.1 M428.9 225.3 V228.1" stroke="#d884b4" stroke-width="1.0" fill="none" opacity="0.93"/>
<path d="M431.9 233.4 L434.7 236.2 M431.9 236.2 L434.7 233.4 M431.9 233.4 V236.2 M434.7 233.4 V236.2" stroke="#d884b4" stroke-width="1.0" fill="none" opacity="0.93"/>
<path d="M435.9 242.6 L438.7 245.4 M435.9 245.4 L438.7 242.6 M435.9 242.6 V245.4 M438.7 242.6 V245.4" stroke="#d884b4" stroke-width="1.0" fill="none" opacity="0.93"/>
<path d="M439.3 251.9 L442.1 254.7 M439.3 254.7 L442.1 251.9 M439.3 251.9 V254.7 M442.1 251.9 V254.7" stroke="#d884b4" stroke-width="1.0" fill="none" opacity="0.93"/>
<path d="M441.2 261.7 L444.0 264.5 M441.2 264.5 L444.0 261.7 M441.2 261.7 V264.5 M444.0 261.7 V264.5" stroke="#d884b4" stroke-width="1.0" fill="none" opacity="0.93"/>
<path d="M340.0 177.0 L370.0 189.0 L395.0 201.0 L415.0 215.0 L430.0 231.0 L440.0 251.0 L445.0 276.0" stroke="#86a8a8" stroke-width="1.68" opacity="0.93"/>
<path d="M338.6 175.6 L341.4 178.4 M338.6 178.4 L341.4 175.6 M338.6 175.6 V178.4 M341.4 175.6 V178.4" stroke="#86a8a8" stroke-width="1.0" fill="none" opacity="0.93"/>
<path d="M368.6 187.6 L371.4 190.4 M368.6 190.4 L371.4 187.6 M368.6 187.6 V190.4 M371.4 187.6 V190.4" stroke="#86a8a8" stroke-width="1.0" fill="none" opacity="0.93"/>
<path d="M393.6 199.6 L396.4 202.4 M393.6 202.4 L396.4 199.6 M393.6 199.6 V202.4 M396.4 199.6 V202.4" stroke="#86a8a8" stroke-width="1.0" fill="none" opacity="0.93"/>
<path d="M413.6 213.6 L416.4 216.4 M413.6 216.4 L416.4 213.6 M413.6 213.6 V216.4 M416.4 213.6 V216.4" stroke="#86a8a8" stroke-width="1.0" fill="none" opacity="0.93"/>
<path d="M428.6 229.6 L431.4 232.4 M428.6 232.4 L431.4 229.6 M428.6 229.6 V232.4 M431.4 229.6 V232.4" stroke="#86a8a8" stroke-width="1.0" fill="none" opacity="0.93"/>
<path d="M438.6 249.6 L441.4 252.4 M438.6 252.4 L441.4 249.6 M438.6 249.6 V252.4 M441.4 249.6 V252.4" stroke="#86a8a8" stroke-width="1.0" fill="none" opacity="0.93"/>
<path d="M443.6 274.6 L446.4 277.4 M443.6 277.4 L446.4 274.6 M443.6 274.6 V277.4 M446.4 274.6 V277.4" stroke="#86a8a8" stroke-width="1.0" fill="none" opacity="0.93"/>
<path d="M347.0 178.9 L349.8 181.7 M347.0 181.7 L349.8 178.9 M347.0 178.9 V181.7 M349.8 178.9 V181.7" stroke="#86a8a8" stroke-width="1.0" fill="none" opacity="0.93"/>
<path d="M355.3 182.3 L358.1 185.1 M355.3 185.1 L358.1 182.3 M355.3 182.3 V185.1 M358.1 182.3 V185.1" stroke="#86a8a8" stroke-width="1.0" fill="none" opacity="0.93"/>
<path d="M363.7 185.6 L366.5 188.4 M363.7 188.4 L366.5 185.6 M363.7 185.6 V188.4 M366.5 185.6 V188.4" stroke="#86a8a8" stroke-width="1.0" fill="none" opacity="0.93"/>
<path d="M380.0 193.1 L382.8 195.9 M380.0 195.9 L382.8 193.1 M380.0 193.1 V195.9 M382.8 193.1 V195.9" stroke="#86a8a8" stroke-width="1.0" fill="none" opacity="0.93"/>
<path d="M388.2 197.0 L391.0 199.8 M388.2 199.8 L391.0 197.0 M388.2 197.0 V199.8 M391.0 197.0 V199.8" stroke="#86a8a8" stroke-width="1.0" fill="none" opacity="0.93"/>
<path d="M403.4 206.5 L406.2 209.3 M403.4 209.3 L406.2 206.5 M403.4 206.5 V209.3 M406.2 206.5 V209.3" stroke="#86a8a8" stroke-width="1.0" fill="none" opacity="0.93"/>
<path d="M417.4 217.6 L420.2 220.4 M417.4 220.4 L420.2 217.6 M417.4 217.6 V220.4 M420.2 217.6 V220.4" stroke="#86a8a8" stroke-width="1.0" fill="none" opacity="0.93"/>
<path d="M423.5 224.2 L426.3 227.0 M423.5 227.0 L426.3 224.2 M423.5 224.2 V227.0 M426.3 224.2 V227.0" stroke="#86a8a8" stroke-width="1.0" fill="none" opacity="0.93"/>
<path d="M433.3 239.1 L436.1 241.9 M433.3 241.9 L436.1 239.1 M433.3 239.1 V241.9 M436.1 239.1 V241.9" stroke="#86a8a8" stroke-width="1.0" fill="none" opacity="0.93"/>
<path d="M439.8 255.7 L442.6 258.5 M439.8 258.5 L442.6 255.7 M439.8 255.7 V258.5 M442.6 255.7 V258.5" stroke="#86a8a8" stroke-width="1.0" fill="none" opacity="0.93"/>
<path d="M441.6 264.6 L444.4 267.4 M441.6 267.4 L444.4 264.6 M441.6 264.6 V267.4 M444.4 264.6 V267.4" stroke="#86a8a8" stroke-width="1.0" fill="none" opacity="0.93"/>
<path d="M184.6 145.7 L229.0 156.0 L270.6 163.4 L290.0 167.0 L321.0 176.3 L346.0 184.7 L373.0 195.0 L394.0 203.3 L415.0 213.8 L427.5 226.0 L435.8 236.7 L442.0 251.0 L445.0 265.8" stroke="#c8306e" stroke-width="1.8199999999999998" opacity="0.93"/>
<circle cx="184.6" cy="145.7" r="2.15" fill="#c8306e" stroke="none" opacity="0.93"/>
<circle cx="229.0" cy="156.0" r="2.15" fill="#c8306e" stroke="none" opacity="0.93"/>
<circle cx="270.6" cy="163.4" r="2.15" fill="#c8306e" stroke="none" opacity="0.93"/>
<circle cx="290.0" cy="167.0" r="2.15" fill="#c8306e" stroke="none" opacity="0.93"/>
<circle cx="321.0" cy="176.3" r="2.15" fill="#c8306e" stroke="none" opacity="0.93"/>
<circle cx="346.0" cy="184.7" r="2.15" fill="#c8306e" stroke="none" opacity="0.93"/>
<circle cx="373.0" cy="195.0" r="2.15" fill="#c8306e" stroke="none" opacity="0.93"/>
<circle cx="394.0" cy="203.3" r="2.15" fill="#c8306e" stroke="none" opacity="0.93"/>
<circle cx="415.0" cy="213.8" r="2.15" fill="#c8306e" stroke="none" opacity="0.93"/>
<circle cx="427.5" cy="226.0" r="2.15" fill="#c8306e" stroke="none" opacity="0.93"/>
<circle cx="435.8" cy="236.7" r="2.15" fill="#c8306e" stroke="none" opacity="0.93"/>
<circle cx="442.0" cy="251.0" r="2.15" fill="#c8306e" stroke="none" opacity="0.93"/>
<circle cx="445.0" cy="265.8" r="2.15" fill="#c8306e" stroke="none" opacity="0.93"/>
<circle cx="302.9" cy="170.9" r="2.15" fill="#c8306e" stroke="none" opacity="0.93"/>
<circle cx="313.4" cy="174.0" r="2.15" fill="#c8306e" stroke="none" opacity="0.93"/>
<circle cx="334.3" cy="180.8" r="2.15" fill="#c8306e" stroke="none" opacity="0.93"/>
<circle cx="355.1" cy="188.2" r="2.15" fill="#c8306e" stroke="none" opacity="0.93"/>
<circle cx="365.3" cy="192.1" r="2.15" fill="#c8306e" stroke="none" opacity="0.93"/>
<circle cx="385.8" cy="200.1" r="2.15" fill="#c8306e" stroke="none" opacity="0.93"/>
<circle cx="405.8" cy="209.2" r="2.15" fill="#c8306e" stroke="none" opacity="0.93"/>
<path d="M200.0 150.0 L250.0 160.5 L290.0 168.5 L330.0 180.0 L360.0 191.0 L385.0 201.0" stroke="#c8306e" stroke-width="1.4" opacity="0.93"/>
<path d="M177.3 138.4 L190.8 144.0 L202.3 148.6 L230.0 149.7 L247.0 149.5 L268.5 155.0 L285.0 159.3 L292.0 160.7 L307.7 164.9 L319.0 168.0 L334.8 173.2 L342.0 175.3 L373.0 190.0 L400.0 201.0 L420.0 216.0 L433.0 235.0 L440.0 255.0 L444.0 280.0 L445.0 300.0" stroke="#40a080" stroke-width="1.68" opacity="0.93"/>
<circle cx="177.3" cy="138.4" r="2.15" fill="#40a080" stroke="none" opacity="0.93"/>
<circle cx="190.8" cy="144.0" r="2.15" fill="#40a080" stroke="none" opacity="0.93"/>
<circle cx="202.3" cy="148.6" r="2.15" fill="#40a080" stroke="none" opacity="0.93"/>
<circle cx="230.0" cy="149.7" r="2.15" fill="#40a080" stroke="none" opacity="0.93"/>
<circle cx="268.5" cy="155.0" r="2.15" fill="#40a080" stroke="none" opacity="0.93"/>
<circle cx="285.0" cy="159.3" r="2.15" fill="#40a080" stroke="none" opacity="0.93"/>
<circle cx="292.0" cy="160.7" r="2.15" fill="#40a080" stroke="none" opacity="0.93"/>
<circle cx="307.7" cy="164.9" r="2.15" fill="#40a080" stroke="none" opacity="0.93"/>
<circle cx="319.0" cy="168.0" r="2.15" fill="#40a080" stroke="none" opacity="0.93"/>
<circle cx="326.0" cy="170.3" r="2.15" fill="#40a080" stroke="none" opacity="0.93"/>
<circle cx="334.8" cy="173.2" r="2.15" fill="#40a080" stroke="none" opacity="0.93"/>
<circle cx="342.0" cy="175.3" r="2.15" fill="#40a080" stroke="none" opacity="0.93"/>
<circle cx="350.8" cy="179.5" r="2.15" fill="#40a080" stroke="none" opacity="0.93"/>
<circle cx="359.0" cy="183.4" r="2.15" fill="#40a080" stroke="none" opacity="0.93"/>
<circle cx="367.1" cy="187.2" r="2.15" fill="#40a080" stroke="none" opacity="0.93"/>
<circle cx="375.3" cy="190.9" r="2.15" fill="#40a080" stroke="none" opacity="0.93"/>
<circle cx="383.6" cy="194.3" r="2.15" fill="#40a080" stroke="none" opacity="0.93"/>
<circle cx="392.0" cy="197.7" r="2.15" fill="#40a080" stroke="none" opacity="0.93"/>
<circle cx="400.3" cy="201.2" r="2.15" fill="#40a080" stroke="none" opacity="0.93"/>
<circle cx="407.5" cy="206.6" r="2.15" fill="#40a080" stroke="none" opacity="0.93"/>
<circle cx="414.7" cy="212.0" r="2.15" fill="#40a080" stroke="none" opacity="0.93"/>
<circle cx="421.3" cy="217.9" r="2.15" fill="#40a080" stroke="none" opacity="0.93"/>
<circle cx="426.4" cy="225.3" r="2.15" fill="#40a080" stroke="none" opacity="0.93"/>
<circle cx="431.5" cy="232.8" r="2.15" fill="#40a080" stroke="none" opacity="0.93"/>
<circle cx="435.1" cy="241.0" r="2.15" fill="#40a080" stroke="none" opacity="0.93"/>
<circle cx="438.1" cy="249.4" r="2.15" fill="#40a080" stroke="none" opacity="0.93"/>
<circle cx="440.5" cy="258.1" r="2.15" fill="#40a080" stroke="none" opacity="0.93"/>
<circle cx="441.9" cy="267.0" r="2.15" fill="#40a080" stroke="none" opacity="0.93"/>
<circle cx="443.3" cy="275.9" r="2.15" fill="#40a080" stroke="none" opacity="0.93"/>
<circle cx="444.2" cy="284.8" r="2.15" fill="#40a080" stroke="none" opacity="0.93"/>
<circle cx="444.7" cy="293.8" r="2.15" fill="#40a080" stroke="none" opacity="0.93"/>
<path d="M230.0 149.0 L260.0 150.0 L290.0 154.5 L315.0 156.0 L338.0 159.7 L363.0 167.0 L383.8 173.2 L404.6 182.6 L419.0 193.0 L431.7 205.5 L440.0 220.0 L445.0 245.0 L446.0 270.0" stroke="#4fa040" stroke-width="2.2399999999999998" opacity="0.93"/>
<path d="M258.0 150.0 H262.0 M260.0 148.0 V152.0" stroke="#4fa040" stroke-width="1.0" fill="none" opacity="0.93"/>
<path d="M313.0 156.0 H317.0 M315.0 154.0 V158.0" stroke="#4fa040" stroke-width="1.0" fill="none" opacity="0.93"/>
<path d="M336.0 159.7 H340.0 M338.0 157.7 V161.7" stroke="#4fa040" stroke-width="1.0" fill="none" opacity="0.93"/>
<path d="M361.0 167.0 H365.0 M363.0 165.0 V169.0" stroke="#4fa040" stroke-width="1.0" fill="none" opacity="0.93"/>
<path d="M323.5 157.7 H327.5 M325.5 155.7 V159.7" stroke="#4fa040" stroke-width="1.0" fill="none" opacity="0.93"/>
<path d="M369.9 169.6 H373.9 M371.9 167.6 V171.6" stroke="#4fa040" stroke-width="1.0" fill="none" opacity="0.93"/>
<path d="M385.0 174.7 H389.0 M387.0 172.7 V176.7" stroke="#4fa040" stroke-width="1.0" fill="none" opacity="0.93"/>
<path d="M399.6 181.3 H403.6 M401.6 179.3 V183.3" stroke="#4fa040" stroke-width="1.0" fill="none" opacity="0.93"/>
<path d="M412.9 190.1 H416.9 M414.9 188.1 V192.1" stroke="#4fa040" stroke-width="1.0" fill="none" opacity="0.93"/>
<path d="M424.8 200.7 H428.8 M426.8 198.7 V202.7" stroke="#4fa040" stroke-width="1.0" fill="none" opacity="0.93"/>
<path d="M434.2 213.4 H438.2 M436.2 211.4 V215.4" stroke="#4fa040" stroke-width="1.0" fill="none" opacity="0.93"/>
<path d="M439.7 228.3 H443.7 M441.7 226.3 V230.3" stroke="#4fa040" stroke-width="1.0" fill="none" opacity="0.93"/>
<path d="M442.8 244.0 H446.8 M444.8 242.0 V246.0" stroke="#4fa040" stroke-width="1.0" fill="none" opacity="0.93"/>
<path d="M443.6 259.9 H447.6 M445.6 257.9 V261.9" stroke="#4fa040" stroke-width="1.0" fill="none" opacity="0.93"/>
<path d="M194.6 137.8 L223.8 143.0 L231.0 143.0 L242.5 143.4 L290.0 148.4 L321.0 151.5 L352.5 159.0 L383.8 168.4 L398.0 171.6 L415.0 181.2 L427.5 190.8 L436.0 205.2 L441.0 222.0" stroke="#5a55c8" stroke-width="1.4" opacity="0.93"/>
<path d="M222.4 141.6 L225.2 144.4 M222.4 144.4 L225.2 141.6 M222.4 141.6 V144.4 M225.2 141.6 V144.4" stroke="#5a55c8" stroke-width="1.0" fill="none" opacity="0.93"/>
<path d="M229.6 141.6 L232.4 144.4 M229.6 144.4 L232.4 141.6 M229.6 141.6 V144.4 M232.4 141.6 V144.4" stroke="#5a55c8" stroke-width="1.0" fill="none" opacity="0.93"/>
<path d="M241.1 142.0 L243.9 144.8 M241.1 144.8 L243.9 142.0 M241.1 142.0 V144.8 M243.9 142.0 V144.8" stroke="#5a55c8" stroke-width="1.0" fill="none" opacity="0.93"/>
<path d="M382.4 167.0 L385.2 169.8 M382.4 169.8 L385.2 167.0 M382.4 167.0 V169.8 M385.2 167.0 V169.8" stroke="#5a55c8" stroke-width="1.0" fill="none" opacity="0.93"/>
<path d="M396.6 170.2 L399.4 173.0 M396.6 173.0 L399.4 170.2 M396.6 170.2 V173.0 M399.4 170.2 V173.0" stroke="#5a55c8" stroke-width="1.0" fill="none" opacity="0.93"/>
<path d="M192.5 137.8 L290.0 146.0 L325.0 150.0 L355.0 156.0 L385.0 165.0 L400.0 168.0 L418.0 180.0 L430.0 190.0 L438.0 205.0 L443.0 225.0 L446.0 250.0" stroke="#a8e6e6" stroke-width="1.68" opacity="0.93"/>
<path d="M398.6 166.6 L401.4 169.4 M398.6 169.4 L401.4 166.6 M398.6 166.6 V169.4 M401.4 166.6 V169.4" stroke="#a8e6e6" stroke-width="1.0" fill="none" opacity="0.93"/>
<path d="M416.6 178.6 L419.4 181.4 M416.6 181.4 L419.4 178.6 M416.6 178.6 V181.4 M419.4 178.6 V181.4" stroke="#a8e6e6" stroke-width="1.0" fill="none" opacity="0.93"/>
<path d="M428.6 188.6 L431.4 191.4 M428.6 191.4 L431.4 188.6 M428.6 188.6 V191.4 M431.4 188.6 V191.4" stroke="#a8e6e6" stroke-width="1.0" fill="none" opacity="0.93"/>
<path d="M436.6 203.6 L439.4 206.4 M436.6 206.4 L439.4 203.6 M436.6 203.6 V206.4 M439.4 203.6 V206.4" stroke="#a8e6e6" stroke-width="1.0" fill="none" opacity="0.93"/>
<path d="M298.7 145.8 L301.5 148.6 M298.7 148.6 L301.5 145.8 M298.7 145.8 V148.6 M301.5 145.8 V148.6" stroke="#a8e6e6" stroke-width="1.0" fill="none" opacity="0.93"/>
<path d="M310.6 147.1 L313.4 149.9 M310.6 149.9 L313.4 147.1 M310.6 147.1 V149.9 M313.4 147.1 V149.9" stroke="#a8e6e6" stroke-width="1.0" fill="none" opacity="0.93"/>
<path d="M322.5 148.5 L325.3 151.3 M322.5 151.3 L325.3 148.5 M322.5 148.5 V151.3 M325.3 148.5 V151.3" stroke="#a8e6e6" stroke-width="1.0" fill="none" opacity="0.93"/>
<path d="M334.3 150.7 L337.1 153.5 M334.3 153.5 L337.1 150.7 M334.3 150.7 V153.5 M337.1 150.7 V153.5" stroke="#a8e6e6" stroke-width="1.0" fill="none" opacity="0.93"/>
<path d="M346.1 153.1 L348.9 155.9 M346.1 155.9 L348.9 153.1 M346.1 153.1 V155.9 M348.9 153.1 V155.9" stroke="#a8e6e6" stroke-width="1.0" fill="none" opacity="0.93"/>
<path d="M357.8 155.8 L360.6 158.6 M357.8 158.6 L360.6 155.8 M357.8 155.8 V158.6 M360.6 155.8 V158.6" stroke="#a8e6e6" stroke-width="1.0" fill="none" opacity="0.93"/>
<path d="M369.2 159.3 L372.0 162.1 M369.2 162.1 L372.0 159.3 M369.2 159.3 V162.1 M372.0 159.3 V162.1" stroke="#a8e6e6" stroke-width="1.0" fill="none" opacity="0.93"/>
<path d="M380.7 162.7 L383.5 165.5 M380.7 165.5 L383.5 162.7 M380.7 162.7 V165.5 M383.5 162.7 V165.5" stroke="#a8e6e6" stroke-width="1.0" fill="none" opacity="0.93"/>
<path d="M422.8 183.8 L425.6 186.6 M422.8 186.6 L425.6 183.8 M422.8 183.8 V186.6 M425.6 183.8 V186.6" stroke="#a8e6e6" stroke-width="1.0" fill="none" opacity="0.93"/>
<path d="M439.4 214.7 L442.2 217.5 M439.4 217.5 L442.2 214.7 M439.4 214.7 V217.5 M442.2 214.7 V217.5" stroke="#a8e6e6" stroke-width="1.0" fill="none" opacity="0.93"/>
<path d="M441.9 226.4 L444.7 229.2 M441.9 229.2 L444.7 226.4 M441.9 226.4 V229.2 M444.7 226.4 V229.2" stroke="#a8e6e6" stroke-width="1.0" fill="none" opacity="0.93"/>
<path d="M443.4 238.3 L446.2 241.1 M443.4 241.1 L446.2 238.3 M443.4 238.3 V241.1 M446.2 238.3 V241.1" stroke="#a8e6e6" stroke-width="1.0" fill="none" opacity="0.93"/>
<path d="M190.8 133.6 L192.5 137.8 L238.3 138.8 L247.7 143.0 L280.0 144.0 L290.0 147.2 L321.0 150.3 L352.5 157.6 L383.8 167.0 L398.0 170.0 L415.0 179.5 L427.5 188.8 L436.0 203.4 L440.0 215.8 L445.0 232.5 L446.0 257.5" stroke="#62e0c4" stroke-width="1.8199999999999998" opacity="0.93"/>
<path d="M188.3 133.6 L192.6 131.3 L192.6 135.9Z" fill="#62e0c4" stroke="none" opacity="0.93"/>
<path d="M190.0 137.8 L194.3 135.5 L194.3 140.1Z" fill="#62e0c4" stroke="none" opacity="0.93"/>
<path d="M235.8 138.8 L240.1 136.5 L240.1 141.1Z" fill="#62e0c4" stroke="none" opacity="0.93"/>
<path d="M245.2 143.0 L249.5 140.7 L249.5 145.3Z" fill="#62e0c4" stroke="none" opacity="0.93"/>
<path d="M277.5 144.0 L281.8 141.7 L281.8 146.3Z" fill="#62e0c4" stroke="none" opacity="0.93"/>
<path d="M318.5 150.3 L322.8 148.0 L322.8 152.6Z" fill="#62e0c4" stroke="none" opacity="0.93"/>
<path d="M350.0 157.6 L354.3 155.3 L354.3 159.9Z" fill="#62e0c4" stroke="none" opacity="0.93"/>
<path d="M395.5 170.0 L399.8 167.7 L399.8 172.3Z" fill="#62e0c4" stroke="none" opacity="0.93"/>
<path d="M412.5 179.5 L416.8 177.2 L416.8 181.8Z" fill="#62e0c4" stroke="none" opacity="0.93"/>
<path d="M304.0 148.8 L308.3 146.5 L308.3 151.1Z" fill="#62e0c4" stroke="none" opacity="0.93"/>
<path d="M327.7 152.4 L332.0 150.1 L332.0 154.7Z" fill="#62e0c4" stroke="none" opacity="0.93"/>
<path d="M339.3 155.1 L343.6 152.8 L343.6 157.4Z" fill="#62e0c4" stroke="none" opacity="0.93"/>
<path d="M362.5 161.4 L366.8 159.1 L366.8 163.7Z" fill="#62e0c4" stroke="none" opacity="0.93"/>
<path d="M374.0 164.8 L378.3 162.5 L378.3 167.1Z" fill="#62e0c4" stroke="none" opacity="0.93"/>
<path d="M385.6 167.9 L389.9 165.6 L389.9 170.2Z" fill="#62e0c4" stroke="none" opacity="0.93"/>
<path d="M426.4 191.2 L430.7 188.9 L430.7 193.5Z" fill="#62e0c4" stroke="none" opacity="0.93"/>
<path d="M432.5 201.6 L436.8 199.3 L436.8 203.9Z" fill="#62e0c4" stroke="none" opacity="0.93"/>
<path d="M436.5 212.8 L440.8 210.5 L440.8 215.1Z" fill="#62e0c4" stroke="none" opacity="0.93"/>
<path d="M440.0 224.3 L444.3 222.0 L444.3 226.6Z" fill="#62e0c4" stroke="none" opacity="0.93"/>
<path d="M442.6 236.0 L446.9 233.7 L446.9 238.3Z" fill="#62e0c4" stroke="none" opacity="0.93"/>
<path d="M443.1 247.9 L447.4 245.6 L447.4 250.2Z" fill="#62e0c4" stroke="none" opacity="0.93"/>
<path d="M445.5 300.0 L445.5 338.0" stroke="#64d494" stroke-width="1.4" opacity="0.93"/>
<path d="M444.1 336.6 L446.9 339.4 M444.1 339.4 L446.9 336.6 M444.1 336.6 V339.4 M446.9 336.6 V339.4" stroke="#64d494" stroke-width="1.0" fill="none" opacity="0.93"/>
</g>
<rect x="132.8" y="119.5" width="313.6" height="234.3" fill="none" stroke="#555" stroke-width="0.7"/>
<line x1="131.9" y1="156.3" x2="132.8" y2="156.3" stroke="#555" stroke-width="0.4"/>
<line x1="131.9" y1="146.5" x2="132.8" y2="146.5" stroke="#555" stroke-width="0.4"/>
<line x1="131.9" y1="139.6" x2="132.8" y2="139.6" stroke="#555" stroke-width="0.4"/>
<line x1="131.9" y1="134.2" x2="132.8" y2="134.2" stroke="#555" stroke-width="0.4"/>
<line x1="131.9" y1="129.8" x2="132.8" y2="129.8" stroke="#555" stroke-width="0.4"/>
<line x1="131.9" y1="126.1" x2="132.8" y2="126.1" stroke="#555" stroke-width="0.4"/>
<line x1="131.9" y1="122.9" x2="132.8" y2="122.9" stroke="#555" stroke-width="0.4"/>
<line x1="131.9" y1="120.0" x2="132.8" y2="120.0" stroke="#555" stroke-width="0.4"/>
<line x1="131.9" y1="211.8" x2="132.8" y2="211.8" stroke="#555" stroke-width="0.4"/>
<line x1="131.9" y1="202.0" x2="132.8" y2="202.0" stroke="#555" stroke-width="0.4"/>
<line x1="131.9" y1="195.1" x2="132.8" y2="195.1" stroke="#555" stroke-width="0.4"/>
<line x1="131.9" y1="189.7" x2="132.8" y2="189.7" stroke="#555" stroke-width="0.4"/>
<line x1="131.9" y1="185.3" x2="132.8" y2="185.3" stroke="#555" stroke-width="0.4"/>
<line x1="131.9" y1="181.6" x2="132.8" y2="181.6" stroke="#555" stroke-width="0.4"/>
<line x1="131.9" y1="178.4" x2="132.8" y2="178.4" stroke="#555" stroke-width="0.4"/>
<line x1="131.9" y1="175.5" x2="132.8" y2="175.5" stroke="#555" stroke-width="0.4"/>
<line x1="131.9" y1="267.3" x2="132.8" y2="267.3" stroke="#555" stroke-width="0.4"/>
<line x1="131.9" y1="257.5" x2="132.8" y2="257.5" stroke="#555" stroke-width="0.4"/>
<line x1="131.9" y1="250.6" x2="132.8" y2="250.6" stroke="#555" stroke-width="0.4"/>
<line x1="131.9" y1="245.2" x2="132.8" y2="245.2" stroke="#555" stroke-width="0.4"/>
<line x1="131.9" y1="240.8" x2="132.8" y2="240.8" stroke="#555" stroke-width="0.4"/>
<line x1="131.9" y1="237.1" x2="132.8" y2="237.1" stroke="#555" stroke-width="0.4"/>
<line x1="131.9" y1="233.9" x2="132.8" y2="233.9" stroke="#555" stroke-width="0.4"/>
<line x1="131.9" y1="231.0" x2="132.8" y2="231.0" stroke="#555" stroke-width="0.4"/>
<line x1="131.9" y1="322.7" x2="132.8" y2="322.7" stroke="#555" stroke-width="0.4"/>
<line x1="131.9" y1="312.9" x2="132.8" y2="312.9" stroke="#555" stroke-width="0.4"/>
<line x1="131.9" y1="306.0" x2="132.8" y2="306.0" stroke="#555" stroke-width="0.4"/>
<line x1="131.9" y1="300.6" x2="132.8" y2="300.6" stroke="#555" stroke-width="0.4"/>
<line x1="131.9" y1="296.2" x2="132.8" y2="296.2" stroke="#555" stroke-width="0.4"/>
<line x1="131.9" y1="292.5" x2="132.8" y2="292.5" stroke="#555" stroke-width="0.4"/>
<line x1="131.9" y1="289.3" x2="132.8" y2="289.3" stroke="#555" stroke-width="0.4"/>
<line x1="131.9" y1="286.4" x2="132.8" y2="286.4" stroke="#555" stroke-width="0.4"/>
<line x1="131.9" y1="351.7" x2="132.8" y2="351.7" stroke="#555" stroke-width="0.4"/>
<line x1="131.9" y1="348.0" x2="132.8" y2="348.0" stroke="#555" stroke-width="0.4"/>
<line x1="131.9" y1="344.8" x2="132.8" y2="344.8" stroke="#555" stroke-width="0.4"/>
<line x1="131.9" y1="341.9" x2="132.8" y2="341.9" stroke="#555" stroke-width="0.4"/>
<line x1="132.8" y1="353.8" x2="132.8" y2="355.4" stroke="#555" stroke-width="0.6"/>
<line x1="195.4" y1="353.8" x2="195.4" y2="355.4" stroke="#555" stroke-width="0.6"/>
<line x1="258.0" y1="353.8" x2="258.0" y2="355.4" stroke="#555" stroke-width="0.6"/>
<line x1="320.6" y1="353.8" x2="320.6" y2="355.4" stroke="#555" stroke-width="0.6"/>
<line x1="383.5" y1="353.8" x2="383.5" y2="355.4" stroke="#555" stroke-width="0.6"/>
<line x1="445.5" y1="353.8" x2="445.5" y2="355.4" stroke="#555" stroke-width="0.6"/>
<line x1="131.2" y1="173.0" x2="132.8" y2="173.0" stroke="#555" stroke-width="0.6"/>
<line x1="131.2" y1="228.5" x2="132.8" y2="228.5" stroke="#555" stroke-width="0.6"/>
<line x1="131.2" y1="284.0" x2="132.8" y2="284.0" stroke="#555" stroke-width="0.6"/>
<line x1="131.2" y1="339.4" x2="132.8" y2="339.4" stroke="#555" stroke-width="0.6"/>
<text x="289.3" y="117.4" font-size="6.15" text-anchor="middle" fill="#222" textLength="194.6" lengthAdjust="spacingAndGlyphs">Recall-Queries per second (1/s) tradeoff - up and to the right is better</text>
<text x="132.8" y="361.2" font-size="4.6" text-anchor="middle" fill="#333">0.0</text>
<text x="195.4" y="361.2" font-size="4.6" text-anchor="middle" fill="#333">0.2</text>
<text x="258.0" y="361.2" font-size="4.6" text-anchor="middle" fill="#333">0.4</text>
<text x="320.6" y="361.2" font-size="4.6" text-anchor="middle" fill="#333">0.6</text>
<text x="383.7" y="361.2" font-size="4.6" text-anchor="middle" fill="#333">0.8</text>
<text x="445.4" y="361.2" font-size="4.6" text-anchor="middle" fill="#333">1.0</text>
<text x="130.2" y="174.8" font-size="4.9" text-anchor="end" fill="#333">10<tspan dy="-1.9" font-size="3.5">4</tspan></text>
<text x="130.2" y="230.3" font-size="4.9" text-anchor="end" fill="#333">10<tspan dy="-1.9" font-size="3.5">3</tspan></text>
<text x="130.2" y="285.8" font-size="4.9" text-anchor="end" fill="#333">10<tspan dy="-1.9" font-size="3.5">2</tspan></text>
<text x="130.2" y="341.2" font-size="4.9" text-anchor="end" fill="#333">10<tspan dy="-1.9" font-size="3.5">1</tspan></text>
<rect x="282.3" y="363.2" width="14" height="5" fill="#8199bb" opacity="0.92"/>
<text x="289.3" y="367.2" font-size="4.6" text-anchor="middle" fill="#1c2a44" font-weight="bold">Recall</text>
<text transform="translate(116.4 237) rotate(-90)" font-size="5.3" text-anchor="middle" fill="#333" textLength="58.8" lengthAdjust="spacingAndGlyphs">Queries per second (1/s)</text>
<rect x="447.8" y="139" width="52.2" height="194.3" fill="#fff" stroke="#d4d4d4" stroke-width="0.6" rx="0.8"/>
<line x1="449.3" y1="142.2" x2="458.5" y2="142.2" stroke="#5a55c8" stroke-width="1.3" opacity="0.9"/>
<g transform="translate(453.9 142.2) scale(1.15) translate(-453.9 -142.2)"><path d="M452.5 140.8 L455.3 143.6 M452.5 143.6 L455.3 140.8 M452.5 140.8 V143.6 M455.3 140.8 V143.6" stroke="#5a55c8" stroke-width="1.0" fill="none" opacity="0.95"/></g>
<text x="461.8" y="143.8" font-size="4.6" fill="#222">NGT-qg</text>
<line x1="449.3" y1="148.7" x2="458.5" y2="148.7" stroke="#c8306e" stroke-width="1.3" opacity="0.9"/>
<g transform="translate(453.9 148.7) scale(1.15) translate(-453.9 -148.7)"><circle cx="453.9" cy="148.7" r="2.15" fill="#c8306e" stroke="none" opacity="0.95"/></g>
<text x="461.8" y="150.3" font-size="4.6" fill="#222">hnsw(nmslib)</text>
<line x1="449.3" y1="155.2" x2="458.5" y2="155.2" stroke="#a8e6e6" stroke-width="1.3" opacity="0.9"/>
<g transform="translate(453.9 155.2) scale(1.15) translate(-453.9 -155.2)"><path d="M452.5 153.8 L455.3 156.6 M452.5 156.6 L455.3 153.8 M452.5 153.8 V156.6 M455.3 153.8 V156.6" stroke="#a8e6e6" stroke-width="1.0" fill="none" opacity="0.95"/></g>
<text x="461.8" y="156.8" font-size="4.6" fill="#222">qsgngt</text>
<line x1="449.3" y1="161.7" x2="458.5" y2="161.7" stroke="#5a2aa0" stroke-width="1.3" opacity="0.9"/>
<g transform="translate(453.9 161.7) scale(1.15) translate(-453.9 -161.7)"><circle cx="453.9" cy="161.7" r="2.15" fill="#5a2aa0" stroke="none" opacity="0.95"/></g>
<text x="461.8" y="163.3" font-size="4.6" fill="#222">NGT-panng</text>
<line x1="449.3" y1="168.2" x2="458.5" y2="168.2" stroke="#e6c8e8" stroke-width="1.3" opacity="0.9"/>
<g transform="translate(453.9 168.2) scale(1.15) translate(-453.9 -168.2)"><path d="M452.5 166.8 L455.3 169.6 M452.5 169.6 L455.3 166.8 M452.5 166.8 V169.6 M455.3 166.8 V169.6" stroke="#e6c8e8" stroke-width="1.0" fill="none" opacity="0.95"/></g>
<text x="461.8" y="169.8" font-size="4.6" fill="#222">glass</text>
<line x1="449.3" y1="174.7" x2="458.5" y2="174.7" stroke="#62e0c4" stroke-width="1.3" opacity="0.9"/>
<g transform="translate(453.9 174.7) scale(1.15) translate(-453.9 -174.7)"><path d="M451.4 174.7 L455.7 172.4 L455.7 177.0Z" fill="#62e0c4" stroke="none" opacity="0.95"/></g>
<text x="461.8" y="176.3" font-size="4.6" fill="#222">scann</text>
<line x1="449.3" y1="181.2" x2="458.5" y2="181.2" stroke="#4fa040" stroke-width="1.3" opacity="0.9"/>
<g transform="translate(453.9 181.2) scale(1.15) translate(-453.9 -181.2)"><path d="M451.9 181.2 H455.9 M453.9 179.2 V183.2" stroke="#4fa040" stroke-width="1.0" fill="none" opacity="0.95"/></g>
<text x="461.8" y="182.8" font-size="4.6" fill="#222">vearch</text>
<line x1="449.3" y1="187.7" x2="458.5" y2="187.7" stroke="#d88888" stroke-width="1.3" opacity="0.9"/>
<g transform="translate(453.9 187.7) scale(1.15) translate(-453.9 -187.7)"><circle cx="453.9" cy="187.7" r="2.15" fill="#d88888" stroke="none" opacity="0.95"/></g>
<text x="461.8" y="189.3" font-size="4.6" fill="#222">vamana(diskann)</text>
<line x1="449.3" y1="194.2" x2="458.5" y2="194.2" stroke="#40a080" stroke-width="1.3" opacity="0.9"/>
<g transform="translate(453.9 194.2) scale(1.15) translate(-453.9 -194.2)"><circle cx="453.9" cy="194.2" r="2.15" fill="#40a080" stroke="none" opacity="0.95"/></g>
<text x="461.8" y="195.8" font-size="4.6" fill="#222">Milvus(Knowhere)</text>
<line x1="449.3" y1="200.7" x2="458.5" y2="200.7" stroke="#86a8a8" stroke-width="1.3" opacity="0.9"/>
<g transform="translate(453.9 200.7) scale(1.15) translate(-453.9 -200.7)"><path d="M452.5 199.3 L455.3 202.1 M452.5 202.1 L455.3 199.3 M452.5 199.3 V202.1 M455.3 199.3 V202.1" stroke="#86a8a8" stroke-width="1.0" fill="none" opacity="0.95"/></g>
<text x="461.8" y="202.3" font-size="4.6" fill="#222">pynndescent</text>
<line x1="449.3" y1="207.2" x2="458.5" y2="207.2" stroke="#682468" stroke-width="1.3" opacity="0.9"/>
<g transform="translate(453.9 207.2) scale(1.15) translate(-453.9 -207.2)"><path d="M451.4 207.2 L455.7 204.9 L455.7 209.5Z" fill="#682468" stroke="none" opacity="0.95"/></g>
<text x="461.8" y="208.8" font-size="4.6" fill="#222">n2</text>
<line x1="449.3" y1="213.7" x2="458.5" y2="213.7" stroke="#d884b4" stroke-width="1.3" opacity="0.9"/>
<g transform="translate(453.9 213.7) scale(1.15) translate(-453.9 -213.7)"><path d="M452.5 212.3 L455.3 215.1 M452.5 215.1 L455.3 212.3 M452.5 212.3 V215.1 M455.3 212.3 V215.1" stroke="#d884b4" stroke-width="1.0" fill="none" opacity="0.95"/></g>
<text x="461.8" y="215.3" font-size="4.6" fill="#222">faiss-ivfpqfs</text>
<line x1="449.3" y1="220.2" x2="458.5" y2="220.2" stroke="#506850" stroke-width="1.3" opacity="0.9"/>
<g transform="translate(453.9 220.2) scale(1.15) translate(-453.9 -220.2)"><path d="M452.5 218.8 L455.3 221.6 M452.5 221.6 L455.3 218.8 M452.5 218.8 V221.6 M455.3 218.8 V221.6" stroke="#506850" stroke-width="1.0" fill="none" opacity="0.95"/></g>
<text x="461.8" y="221.8" font-size="4.6" fill="#222">hnsw(faiss)</text>
<line x1="449.3" y1="226.7" x2="458.5" y2="226.7" stroke="#a030c0" stroke-width="1.3" opacity="0.9"/>
<g transform="translate(453.9 226.7) scale(1.15) translate(-453.9 -226.7)"><path d="M451.9 226.7 H455.9 M453.9 224.7 V228.7" stroke="#a030c0" stroke-width="1.0" fill="none" opacity="0.95"/></g>
<text x="461.8" y="228.3" font-size="4.6" fill="#222">hnswlib</text>
<line x1="449.3" y1="233.2" x2="458.5" y2="233.2" stroke="#b4e474" stroke-width="1.3" opacity="0.9"/>
<g transform="translate(453.9 233.2) scale(1.15) translate(-453.9 -233.2)"><path d="M451.4 233.2 L455.7 230.9 L455.7 235.5Z" fill="#b4e474" stroke="none" opacity="0.95"/></g>
<text x="461.8" y="234.8" font-size="4.6" fill="#222">hnsw(vespa)</text>
<line x1="449.3" y1="239.7" x2="458.5" y2="239.7" stroke="#909050" stroke-width="1.3" opacity="0.9"/>
<g transform="translate(453.9 239.7) scale(1.15) translate(-453.9 -239.7)"><path d="M451.4 239.7 L455.7 237.4 L455.7 242.0Z" fill="#909050" stroke="none" opacity="0.95"/></g>
<text x="461.8" y="241.3" font-size="4.6" fill="#222">redisearch</text>
<line x1="449.3" y1="246.2" x2="458.5" y2="246.2" stroke="#909090" stroke-width="1.3" opacity="0.9"/>
<g transform="translate(453.9 246.2) scale(1.15) translate(-453.9 -246.2)"><circle cx="453.9" cy="246.2" r="2.15" fill="#909090" stroke="none" opacity="0.95"/></g>
<text x="461.8" y="247.8" font-size="4.6" fill="#222">vald(NGT-anng)</text>
<line x1="449.3" y1="252.7" x2="458.5" y2="252.7" stroke="#306464" stroke-width="1.3" opacity="0.9"/>
<g transform="translate(453.9 252.7) scale(1.15) translate(-453.9 -252.7)"><path d="M452.5 251.3 L455.3 254.1 M452.5 254.1 L455.3 251.3 M452.5 251.3 V254.1 M455.3 251.3 V254.1" stroke="#306464" stroke-width="1.0" fill="none" opacity="0.95"/></g>
<text x="461.8" y="254.3" font-size="4.6" fill="#222">luceneknn</text>
<line x1="449.3" y1="259.2" x2="458.5" y2="259.2" stroke="#946050" stroke-width="1.3" opacity="0.9"/>
<g transform="translate(453.9 259.2) scale(1.15) translate(-453.9 -259.2)"><path d="M451.9 259.2 H455.9 M453.9 257.2 V261.2" stroke="#946050" stroke-width="1.0" fill="none" opacity="0.95"/></g>
<text x="461.8" y="260.8" font-size="4.6" fill="#222">weaviate</text>
<line x1="449.3" y1="265.7" x2="458.5" y2="265.7" stroke="#a494e0" stroke-width="1.3" opacity="0.9"/>
<g transform="translate(453.9 265.7) scale(1.15) translate(-453.9 -265.7)"><circle cx="453.9" cy="265.7" r="2.15" fill="#a494e0" stroke="none" opacity="0.95"/></g>
<text x="461.8" y="267.3" font-size="4.6" fill="#222">SW-graph(nmslib)</text>
<line x1="449.3" y1="272.2" x2="458.5" y2="272.2" stroke="#d454a4" stroke-width="1.3" opacity="0.9"/>
<g transform="translate(453.9 272.2) scale(1.15) translate(-453.9 -272.2)"><path d="M451.9 272.2 H455.9 M453.9 270.2 V274.2" stroke="#d454a4" stroke-width="1.0" fill="none" opacity="0.95"/></g>
<text x="461.8" y="273.8" font-size="4.6" fill="#222">faiss-ivf</text>
<line x1="449.3" y1="278.7" x2="458.5" y2="278.7" stroke="#303030" stroke-width="1.3" opacity="0.9"/>
<g transform="translate(453.9 278.7) scale(1.15) translate(-453.9 -278.7)"><circle cx="453.9" cy="278.7" r="2.15" fill="#303030" stroke="none" opacity="0.95"/></g>
<text x="461.8" y="280.3" font-size="4.6" fill="#222">flann</text>
<line x1="449.3" y1="285.2" x2="458.5" y2="285.2" stroke="#a4e4c8" stroke-width="1.3" opacity="0.9"/>
<g transform="translate(453.9 285.2) scale(1.15) translate(-453.9 -285.2)"><path d="M451.9 285.2 H455.9 M453.9 283.2 V287.2" stroke="#a4e4c8" stroke-width="1.0" fill="none" opacity="0.95"/></g>
<text x="461.8" y="286.8" font-size="4.6" fill="#222">mrpt</text>
<line x1="449.3" y1="291.7" x2="458.5" y2="291.7" stroke="#84d464" stroke-width="1.3" opacity="0.9"/>
<g transform="translate(453.9 291.7) scale(1.15) translate(-453.9 -291.7)"><path d="M451.9 291.7 H455.9 M453.9 289.7 V293.7" stroke="#84d464" stroke-width="1.0" fill="none" opacity="0.95"/></g>
<text x="461.8" y="293.3" font-size="4.6" fill="#222">annoy</text>
<line x1="449.3" y1="298.2" x2="458.5" y2="298.2" stroke="#d4f0c4" stroke-width="1.3" opacity="0.9"/>
<g transform="translate(453.9 298.2) scale(1.15) translate(-453.9 -298.2)"><path d="M452.5 296.8 L455.3 299.6 M452.5 299.6 L455.3 296.8 M452.5 296.8 V299.6 M455.3 296.8 V299.6" stroke="#d4f0c4" stroke-width="1.0" fill="none" opacity="0.95"/></g>
<text x="461.8" y="299.8" font-size="4.6" fill="#222">qdrant</text>
<line x1="449.3" y1="304.7" x2="458.5" y2="304.7" stroke="#4444c4" stroke-width="1.3" opacity="0.9"/>
<g transform="translate(453.9 304.7) scale(1.15) translate(-453.9 -304.7)"><path d="M451.4 304.7 L455.7 302.4 L455.7 307.0Z" fill="#4444c4" stroke="none" opacity="0.95"/></g>
<text x="461.8" y="306.3" font-size="4.6" fill="#222">puffinn</text>
<line x1="449.3" y1="311.2" x2="458.5" y2="311.2" stroke="#343474" stroke-width="1.3" opacity="0.9"/>
<g transform="translate(453.9 311.2) scale(1.15) translate(-453.9 -311.2)"><circle cx="453.9" cy="311.2" r="2.15" fill="#343474" stroke="none" opacity="0.95"/></g>
<text x="461.8" y="312.8" font-size="4.6" fill="#222">pgvector</text>
<line x1="449.3" y1="317.7" x2="458.5" y2="317.7" stroke="#84a454" stroke-width="1.3" opacity="0.9"/>
<g transform="translate(453.9 317.7) scale(1.15) translate(-453.9 -317.7)"><path d="M452.5 316.3 L455.3 319.1 M452.5 319.1 L455.3 316.3 M452.5 316.3 V319.1 M455.3 316.3 V319.1" stroke="#84a454" stroke-width="1.0" fill="none" opacity="0.95"/></g>
<text x="461.8" y="319.3" font-size="4.6" fill="#222">tinyknn</text>
<line x1="449.3" y1="324.2" x2="458.5" y2="324.2" stroke="#d2d264" stroke-width="1.3" opacity="0.9"/>
<g transform="translate(453.9 324.2) scale(1.15) translate(-453.9 -324.2)"><path d="M451.4 324.2 L455.7 321.9 L455.7 326.5Z" fill="#d2d264" stroke="none" opacity="0.95"/></g>
<text x="461.8" y="325.8" font-size="4.6" fill="#222">BallTree(nmslib)</text>
<line x1="449.3" y1="330.7" x2="458.5" y2="330.7" stroke="#64d494" stroke-width="1.3" opacity="0.9"/>
<g transform="translate(453.9 330.7) scale(1.15) translate(-453.9 -330.7)"><path d="M452.5 329.3 L455.3 332.1 M452.5 332.1 L455.3 329.3 M452.5 329.3 V332.1 M455.3 329.3 V332.1" stroke="#64d494" stroke-width="1.0" fill="none" opacity="0.95"/></g>
<text x="461.8" y="332.3" font-size="4.6" fill="#222">bruteforce-blas</text>
</g>
<g fill="#7467d6" filter="url(#soft)"><path d="M535.4 361.6 q1.2 1.2 2.6 1.3 h3.2 q1.4 -0.1 2.6 -1.3 q-0.2 2.2 -2.2 2.6 h-0.6 v3.6 q0 0.8 -1.4 0.8 q-1.4 0 -1.4 -0.8 v-3.6 h-0.6 q-2 -0.4 -2.2 -2.6z"/><circle cx="536.4" cy="365.5" r="0.5"/><circle cx="542.8" cy="365.5" r="0.5"/><rect x="536.2" y="370.2" width="2.6" height="0.9" opacity="0.8"/><rect x="540.3" y="370.2" width="2.6" height="0.9" opacity="0.8"/></g>
</svg>
<div id="pg">1/2</div><div id="nxt"><svg width="15.2" height="15.2" viewBox="0 0 15.2 15.2"><path d="M6.5 5 l2.6 2.6 l-2.6 2.6" fill="none" stroke="#f2f2f2" stroke-width="1.1"/></svg></div><div class="tile" style="left:624px;top:26px;background:#b9bcbc"><svg width="67.4" height="37.7" viewBox="0 0 67.4 37.7" style="position:absolute;left:0;top:0"><defs><filter id="vb" x="-10%" y="-10%" width="120%" height="120%"><feGaussianBlur stdDeviation="0.75"/></filter><linearGradient id="vg" x1="0" y1="0" x2="0" y2="1"><stop offset="0" stop-color="#6e7676"/><stop offset="0.1" stop-color="#8a9292"/><stop offset="0.2" stop-color="#b4baba"/><stop offset="0.55" stop-color="#c2c7c7"/><stop offset="1" stop-color="#a4aaaa"/></linearGradient></defs><rect width="67.4" height="37.7" fill="url(#vg)"/><g filter="url(#vb)"><rect x="-2" y="-2" width="72" height="5.6" fill="#6c7474"/><rect x="-1" y="5" width="29" height="17" fill="#c3c9c9"/><path d="M2 9 L26 7 M4 13 L24 12 M1 17 L27 16" stroke="#a2aaaa" stroke-width="1.2" opacity="0.6"/><rect x="-1" y="22" width="29" height="10" fill="#8e9a96"/><rect x="27" y="5" width="12" height="18" fill="#a4acac"/><rect x="39" y="4.5" width="30" height="20" fill="#d3d7d7"/><rect x="45.9" y="12.3" width="13" height="7.3" fill="#1f2327"/><path d="M4 37.7 L7 32 L19 30.5 L17 37.7Z" fill="#e3e7e7"/><path d="M39.8 24.7 L54.4 26.2 L46.6 31.5 L37.8 27.4Z" fill="#eceff0"/><path d="M46.5 31 L55.5 26.5 L58 37.7 L45 37.7Z" fill="#3c4044"/><rect x="39.3" y="24.2" width="2.6" height="3" fill="#2c3034"/><rect x="45.1" y="22.8" width="4.4" height="1.8" fill="#30363a"/><path d="M58.5 24 q3.3 -3.4 6.5 0 v10.5 h-6.5z" fill="#3f9e52"/><rect x="60" y="22.6" width="4" height="3.6" rx="1" fill="#c8e4c8"/><path d="M13.5 38 q1.2 -8.2 9.5 -9.4 l6.5 -1.4 h8.6 l4 1.4 q4 1.4 5 9.4z" fill="#e98a4b"/><ellipse cx="33.8" cy="21" rx="4.9" ry="6.8" fill="#bd7648"/><path d="M28.9 19 q0.2 -5.8 4.9 -5.8 q4.8 0 5 5.8 q-1.6 -3 -5 -3 q-3.4 0 -4.9 3z" fill="#4b3a2c"/><rect x="31.2" y="25.6" width="5" height="3.4" fill="#ad6a42"/></g></svg><div class="nm" style="filter:blur(.4px);color:#fbfbfb">Николай Роман…</div></div><div class="tile" style="left:695px;top:26px"><div class="nm">Dmitry Shalnov</div><div class="av">D</div><svg class="mic" width="6" height="8" viewBox="0 0 6 8"><g fill="none" stroke="#d23c60" stroke-width="0.7" stroke-linecap="round"><rect x="2" y="0.6" width="2" height="3.8" rx="1" fill="#d23c60" stroke="none"/><path d="M0.9 3.4 a2.1 2.1 0 0 0 4.2 0 M3 5.6 v1.4 M1.8 7.2 h2.4 M0.7 0.8 l4.8 6"/></g></svg></div><div class="tile" style="left:624px;top:67.3px"><div class="nm">Алексей Бараб…</div><div class="av">A</div><svg class="mic" width="6" height="8" viewBox="0 0 6 8"><g fill="none" stroke="#d23c60" stroke-width="0.7" stroke-linecap="round"><rect x="2" y="0.6" width="2" height="3.8" rx="1" fill="#d23c60" stroke="none"/><path d="M0.9 3.4 a2.1 2.1 0 0 0 4.2 0 M3 5.6 v1.4 M1.8 7.2 h2.4 M0.7 0.8 l4.8 6"/></g></svg></div><div class="tile" style="left:695px;top:67.3px"><div class="nm">Ivan</div><div class="av">I</div><svg class="mic" width="6" height="8" viewBox="0 0 6 8"><g fill="none" stroke="#d23c60" stroke-width="0.7" stroke-linecap="round"><rect x="2" y="0.6" width="2" height="3.8" rx="1" fill="#d23c60" stroke="none"/><path d="M0.9 3.4 a2.1 2.1 0 0 0 4.2 0 M3 5.6 v1.4 M1.8 7.2 h2.4 M0.7 0.8 l4.8 6"/></g></svg></div><div class="tile" style="left:624px;top:108.9px"><div class="nm">Михаил Головин</div><div class="av">M</div><svg class="mic" width="6" height="8" viewBox="0 0 6 8"><g fill="none" stroke="#d23c60" stroke-width="0.7" stroke-linecap="round"><rect x="2" y="0.6" width="2" height="3.8" rx="1" fill="#d23c60" stroke="none"/><path d="M0.9 3.4 a2.1 2.1 0 0 0 4.2 0 M3 5.6 v1.4 M1.8 7.2 h2.4 M0.7 0.8 l4.8 6"/></g></svg></div><div class="tile" style="left:695px;top:108.9px"><div class="nm">Артем Кастров</div><div class="av">A</div><svg class="mic" width="6" height="8" viewBox="0 0 6 8"><g fill="none" stroke="#d23c60" stroke-width="0.7" stroke-linecap="round"><rect x="2" y="0.6" width="2" height="3.8" rx="1" fill="#d23c60" stroke="none"/><path d="M0.9 3.4 a2.1 2.1 0 0 0 4.2 0 M3 5.6 v1.4 M1.8 7.2 h2.4 M0.7 0.8 l4.8 6"/></g></svg></div>
<div class="who" style="top:327px">Ольга Голованова</div><div class="bub" style="top:340.9px;width:87.6px;height:21.3px"><span>а какой язык запросов? SQL</span><span>стандартный?</span></div><div class="who" style="top:372.8px">Алексей Барабанов</div><div class="bub" style="top:386.3px;width:56.1px;height:13.4px"><span>получается 11000</span></div>
<div id="foot"><span>Проведено на платформе МТС Линк</span></div><div id="botline"></div>
</body></html>
